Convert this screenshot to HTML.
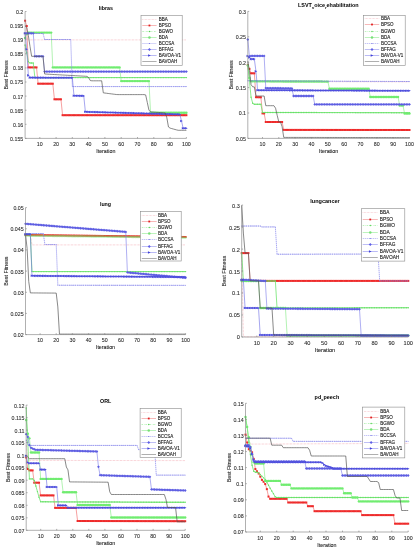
<!DOCTYPE html>
<html><head><meta charset="utf-8"><style>
html,body{margin:0;padding:0;background:#fff;}
.t{fill:#2a2a2a;stroke:#2a2a2a;stroke-width:0.08px;}
.l{fill:#1a1a1a;stroke:#1a1a1a;stroke-width:0.08px;}
.g{fill:#222;stroke:#222;stroke-width:0.12px;}
.h{fill:#000;}
svg{display:block;}
</style></head><body>
<svg width="416" height="550" viewBox="0 0 416 550" font-family='"Liberation Sans", sans-serif' style="will-change:transform">
<g>
<rect width="416" height="550" fill="#fff"/>
<defs><marker id="m_BPSO" markerUnits="userSpaceOnUse" markerWidth="2.00" markerHeight="2.00" refX="1.00" refY="1.00" viewBox="0 0 2.00 2.00" overflow="visible"><g fill="#ee2a2a"><rect width="2.00" height="2.00"/></g></marker><marker id="m_BGWO" markerUnits="userSpaceOnUse" markerWidth="1.40" markerHeight="1.40" refX="0.70" refY="0.70" viewBox="0 0 1.40 1.40" overflow="visible"><g fill="#66e066"><circle cx="0.70" cy="0.70" r="0.70"/></g></marker><marker id="m_BDA" markerUnits="userSpaceOnUse" markerWidth="2.40" markerHeight="2.40" refX="1.20" refY="1.20" viewBox="0 0 2.40 2.40" overflow="visible"><g fill="#70ec70"><circle cx="1.20" cy="1.20" r="1.20"/></g></marker><marker id="m_BCCSA" markerUnits="userSpaceOnUse" markerWidth="0.80" markerHeight="0.80" refX="0.40" refY="0.40" viewBox="0 0 0.80 0.80" overflow="visible"><g fill="#7070e4"><circle cx="0.40" cy="0.40" r="0.40"/></g></marker><marker id="m_BFFAG" markerUnits="userSpaceOnUse" markerWidth="2.80" markerHeight="2.80" refX="1.40" refY="1.40" viewBox="0 0 2.80 2.80" overflow="visible"><g fill="#5e5ee2"><path d="M1.40,0 L2.80,1.40 L1.40,2.80 L0,1.40 z"/></g></marker><marker id="m_BAVOA" markerUnits="userSpaceOnUse" markerWidth="2.60" markerHeight="2.60" refX="1.30" refY="1.30" viewBox="0 0 2.60 2.60" overflow="visible"><g fill="#4c4cdc"><path d="M0,0 L2.60,1.30 L0,2.60 z"/></g></marker></defs>
<polyline points="25.10,34.00 26.73,38.44 28.36,39.90 29.99,39.90 31.62,39.90 33.25,39.90 34.88,39.90 36.51,39.90 38.13,39.90 39.76,39.90 41.39,39.90 43.02,39.90 44.65,39.90 46.28,39.90 47.91,39.90 49.54,39.90 51.17,39.90 52.80,39.90 54.43,39.90 56.06,39.90 57.69,39.90 59.32,39.90 60.94,39.90 62.57,39.90 64.20,39.90 65.83,39.90 67.46,39.90 69.09,39.90 70.72,39.90 72.35,39.90 73.98,39.90 75.61,39.90 77.24,39.90 78.87,39.90 80.50,39.90 82.13,39.90 83.75,39.90 85.38,39.90 87.01,39.90 88.64,39.90 90.27,39.90 91.90,39.90 93.53,39.90 95.16,39.90 96.79,39.90 98.42,39.90 100.05,39.90 101.68,39.90 103.31,39.90 104.94,39.90 106.56,39.90 108.19,39.90 109.82,39.90 111.45,39.90 113.08,39.90 114.71,39.90 116.34,39.90 117.97,39.90 119.60,39.90 121.23,39.90 122.86,39.90 124.49,39.90 126.12,39.90 127.75,39.90 129.37,39.90 131.00,39.90 132.63,39.90 134.26,39.90 135.89,39.90 137.52,39.90 139.15,39.90 140.78,39.90 142.41,39.90 144.04,39.90 145.67,39.90 147.30,39.90 148.93,39.90 150.56,39.90 152.18,39.90 153.81,39.90 155.44,39.90 157.07,39.90 158.70,39.90 160.33,39.90 161.96,39.90 163.59,39.90 165.22,39.90 166.85,39.90 168.48,39.90 170.11,39.90 171.74,39.90 173.37,39.90 174.99,39.90 176.62,39.90 178.25,39.90 179.88,39.90 181.51,39.90 183.14,39.90 184.77,39.90 186.40,39.90" fill="none" stroke="#f08a96" stroke-width="0.60" stroke-dasharray="0.6 0.8"/>
<polyline points="25.10,20.70 26.73,26.00 28.36,67.40 29.99,67.40 31.62,67.40 33.25,67.40 34.88,67.40 36.51,67.40 38.13,83.70 39.76,83.70 41.39,83.70 43.02,83.70 44.65,83.70 46.28,83.70 47.91,83.70 49.54,83.70 51.17,83.70 52.80,83.70 54.43,99.30 56.06,99.30 57.69,99.30 59.32,99.30 60.94,99.30 62.57,115.20 64.20,115.20 65.83,115.20 67.46,115.20 69.09,115.20 70.72,115.20 72.35,115.20 73.98,115.20 75.61,115.20 77.24,115.20 78.87,115.20 80.50,115.20 82.13,115.20 83.75,115.20 85.38,115.20 87.01,115.20 88.64,115.20 90.27,115.20 91.90,115.20 93.53,115.20 95.16,115.20 96.79,115.20 98.42,115.20 100.05,115.20 101.68,115.20 103.31,115.20 104.94,115.20 106.56,115.20 108.19,115.20 109.82,115.20 111.45,115.20 113.08,115.20 114.71,115.20 116.34,115.20 117.97,115.20 119.60,115.20 121.23,115.20 122.86,115.20 124.49,115.20 126.12,115.20 127.75,115.20 129.37,115.20 131.00,115.20 132.63,115.20 134.26,115.20 135.89,115.20 137.52,115.20 139.15,115.20 140.78,115.20 142.41,115.20 144.04,115.20 145.67,115.20 147.30,115.20 148.93,115.20 150.56,115.20 152.18,115.20 153.81,115.20 155.44,115.20 157.07,115.20 158.70,115.20 160.33,115.20 161.96,115.20 163.59,115.20 165.22,115.20 166.85,115.20 168.48,115.20 170.11,115.20 171.74,115.20 173.37,115.20 174.99,115.20 176.62,115.20 178.25,115.20 179.88,115.20 181.51,115.20 183.14,115.20 184.77,115.20 186.40,115.20" fill="none" stroke="#f06060" stroke-width="0.60" marker-start="url(#m_BPSO)" marker-mid="url(#m_BPSO)" marker-end="url(#m_BPSO)"/>
<polyline points="25.10,45.00 26.73,52.80 28.36,61.68 29.99,63.00 31.62,63.00 33.25,63.00 34.88,77.60 36.51,77.60 38.13,77.60 39.76,77.60 41.39,77.60 43.02,77.60 44.65,77.60 46.28,77.60 47.91,77.60 49.54,77.60 51.17,77.60 52.80,77.60 54.43,77.60 56.06,77.60 57.69,77.60 59.32,77.60 60.94,77.60 62.57,77.60 64.20,77.60 65.83,77.60 67.46,77.60 69.09,77.60 70.72,77.60 72.35,77.60 73.98,77.60 75.61,77.60 77.24,77.60 78.87,77.60 80.50,77.60 82.13,77.60 83.75,77.60 85.38,77.60 87.01,77.60 88.64,77.60 90.27,77.60 91.90,77.60 93.53,77.60 95.16,77.60 96.79,77.60 98.42,77.60 100.05,77.60 101.68,77.60 103.31,77.60 104.94,77.60 106.56,77.60 108.19,77.60 109.82,77.60 111.45,77.60 113.08,77.60 114.71,77.60 116.34,77.60 117.97,77.60 119.60,77.60 121.23,77.60 122.86,77.60 124.49,77.60 126.12,77.60 127.75,77.60 129.37,77.60 131.00,77.60 132.63,77.60 134.26,77.60 135.89,77.60 137.52,77.60 139.15,77.60 140.78,77.60 142.41,77.60 144.04,77.60 145.67,77.60 147.30,77.60 148.93,77.60 150.56,77.60 152.18,77.60 153.81,77.60 155.44,77.60 157.07,77.60 158.70,77.60 160.33,77.60 161.96,77.60 163.59,77.60 165.22,77.60 166.85,77.60 168.48,77.60 170.11,77.60 171.74,77.60 173.37,77.60 174.99,77.60 176.62,77.60 178.25,77.60 179.88,77.60 181.51,77.60 183.14,77.60 184.77,77.60 186.40,77.60" fill="none" stroke="#70e470" stroke-width="0.80" marker-start="url(#m_BGWO)" marker-mid="url(#m_BGWO)" marker-end="url(#m_BGWO)"/>
<polyline points="25.10,38.00 26.73,33.94 28.36,32.60 29.99,32.60 31.62,32.60 33.25,32.60 34.88,32.60 36.51,32.60 38.13,32.60 39.76,32.60 41.39,32.60 43.02,32.60 44.65,32.60 46.28,32.60 47.91,32.60 49.54,32.60 51.17,32.60 52.80,67.40 54.43,67.40 56.06,67.40 57.69,67.40 59.32,67.40 60.94,67.40 62.57,67.40 64.20,67.40 65.83,67.40 67.46,67.40 69.09,67.40 70.72,67.40 72.35,67.40 73.98,67.40 75.61,67.40 77.24,67.40 78.87,67.40 80.50,67.40 82.13,67.40 83.75,67.40 85.38,67.40 87.01,67.40 88.64,67.40 90.27,67.40 91.90,67.40 93.53,67.40 95.16,67.40 96.79,67.40 98.42,67.40 100.05,67.40 101.68,67.40 103.31,67.40 104.94,67.40 106.56,67.40 108.19,67.40 109.82,67.40 111.45,67.40 113.08,67.40 114.71,67.40 116.34,67.40 117.97,67.40 119.60,67.40 121.23,81.10 122.86,81.10 124.49,81.10 126.12,81.10 127.75,81.10 129.37,81.10 131.00,81.10 132.63,81.10 134.26,81.10 135.89,81.10 137.52,81.10 139.15,81.10 140.78,81.10 142.41,81.10 144.04,81.10 145.67,81.10 147.30,81.10 148.93,81.10 150.56,112.60 152.18,112.61 153.81,112.62 155.44,112.63 157.07,112.64 158.70,112.65 160.33,112.66 161.96,112.67 163.59,112.68 165.22,112.68 166.85,112.69 168.48,112.70 170.11,112.71 171.74,112.72 173.37,112.73 174.99,112.74 176.62,112.75 178.25,112.76 179.88,112.76 181.51,112.77 183.14,112.78 184.77,112.79 186.40,112.80" fill="none" stroke="#80ea80" stroke-width="0.60" marker-start="url(#m_BDA)" marker-mid="url(#m_BDA)" marker-end="url(#m_BDA)"/>
<polyline points="25.10,33.50 26.73,33.50 28.36,33.50 29.99,33.50 31.62,33.50 33.25,33.50 34.88,33.50 36.51,33.50 38.13,33.50 39.76,33.50 41.39,33.50 43.02,33.50 44.65,39.50 46.28,39.50 47.91,39.50 49.54,39.50 51.17,39.50 52.80,39.50 54.43,39.50 56.06,39.50 57.69,39.50 59.32,39.50 60.94,39.50 62.57,39.50 64.20,39.50 65.83,39.50 67.46,39.50 69.09,39.50 70.72,39.50 72.35,86.60 73.98,86.60 75.61,86.60 77.24,86.60 78.87,86.60 80.50,86.60 82.13,86.60 83.75,86.60 85.38,86.60 87.01,86.60 88.64,86.60 90.27,86.60 91.90,86.60 93.53,86.60 95.16,86.60 96.79,86.60 98.42,86.60 100.05,86.60 101.68,86.60 103.31,86.60 104.94,86.60 106.56,86.60 108.19,86.60 109.82,86.60 111.45,86.60 113.08,86.60 114.71,86.60 116.34,86.60 117.97,86.60 119.60,86.60 121.23,86.60 122.86,86.60 124.49,86.60 126.12,86.60 127.75,86.60 129.37,86.60 131.00,86.60 132.63,86.60 134.26,86.60 135.89,86.60 137.52,86.60 139.15,86.60 140.78,86.60 142.41,86.60 144.04,86.60 145.67,86.60 147.30,86.60 148.93,86.60 150.56,86.60 152.18,86.60 153.81,86.60 155.44,86.60 157.07,86.60 158.70,86.60 160.33,86.60 161.96,86.60 163.59,86.60 165.22,86.60 166.85,86.60 168.48,86.60 170.11,86.60 171.74,86.60 173.37,86.60 174.99,86.60 176.62,86.60 178.25,86.60 179.88,86.60 181.51,86.60 183.14,86.60 184.77,86.60 186.40,86.60" fill="none" stroke="#8c8cee" stroke-width="0.75" stroke-dasharray="1.4 0.6" marker-start="url(#m_BCCSA)" marker-mid="url(#m_BCCSA)" marker-end="url(#m_BCCSA)"/>
<polyline points="25.10,33.30 26.73,33.30 28.36,33.30 29.99,33.30 31.62,33.30 33.25,33.30 34.88,56.30 36.51,56.30 38.13,56.30 39.76,56.30 41.39,56.30 43.02,56.30 44.65,71.60 46.28,71.60 47.91,71.60 49.54,71.60 51.17,71.60 52.80,71.60 54.43,71.60 56.06,71.60 57.69,71.60 59.32,71.60 60.94,71.60 62.57,71.60 64.20,71.60 65.83,71.60 67.46,71.60 69.09,71.60 70.72,71.60 72.35,71.60 73.98,71.60 75.61,71.60 77.24,71.60 78.87,71.60 80.50,71.60 82.13,71.60 83.75,71.60 85.38,71.60 87.01,71.60 88.64,71.60 90.27,71.60 91.90,71.60 93.53,71.60 95.16,71.60 96.79,71.60 98.42,71.60 100.05,71.60 101.68,71.60 103.31,71.60 104.94,71.60 106.56,71.60 108.19,71.60 109.82,71.60 111.45,71.60 113.08,71.60 114.71,71.60 116.34,71.60 117.97,71.60 119.60,71.60 121.23,71.60 122.86,71.60 124.49,71.60 126.12,71.60 127.75,71.60 129.37,71.60 131.00,71.60 132.63,71.60 134.26,71.60 135.89,71.60 137.52,71.60 139.15,71.60 140.78,71.60 142.41,71.60 144.04,71.60 145.67,71.60 147.30,71.60 148.93,71.60 150.56,71.60 152.18,71.60 153.81,71.60 155.44,71.60 157.07,71.60 158.70,71.60 160.33,71.60 161.96,71.60 163.59,71.60 165.22,71.60 166.85,71.60 168.48,71.60 170.11,71.60 171.74,71.60 173.37,71.60 174.99,71.60 176.62,71.60 178.25,71.60 179.88,71.60 181.51,71.60 183.14,71.60 184.77,71.60 186.40,71.60" fill="none" stroke="#7878ea" stroke-width="0.60" marker-start="url(#m_BFFAG)" marker-mid="url(#m_BFFAG)" marker-end="url(#m_BFFAG)"/>
<polyline points="25.10,33.30 26.73,49.18 28.36,75.33 29.99,77.61 31.62,77.61 33.25,77.62 34.88,77.63 36.51,77.64 38.13,77.64 39.76,77.65 41.39,77.66 43.02,77.67 44.65,77.67 46.28,77.68 47.91,77.69 49.54,77.70 51.17,77.70 52.80,77.71 54.43,77.72 56.06,77.73 57.69,77.73 59.32,77.74 60.94,77.75 62.57,77.75 64.20,77.76 65.83,77.77 67.46,77.78 69.09,77.78 70.72,77.79 72.35,77.80 73.98,95.72 75.61,95.75 77.24,95.77 78.87,95.80 80.50,95.83 82.13,95.86 83.75,95.89 85.38,111.81 87.01,111.85 88.64,111.90 90.27,111.94 91.90,111.99 93.53,112.03 95.16,112.08 96.79,112.12 98.42,112.17 100.05,112.21 101.68,112.25 103.31,112.30 104.94,112.34 106.56,112.39 108.19,112.43 109.82,112.48 111.45,112.52 113.08,112.56 114.71,112.61 116.34,112.65 117.97,112.70 119.60,112.74 121.23,112.79 122.86,112.83 124.49,112.88 126.12,112.92 127.75,112.96 129.37,113.01 131.00,113.05 132.63,113.10 134.26,113.14 135.89,113.19 137.52,113.23 139.15,113.27 140.78,113.32 142.41,113.36 144.04,113.41 145.67,113.45 147.30,113.50 148.93,113.54 150.56,113.58 152.18,113.63 153.81,113.67 155.44,113.72 157.07,113.76 158.70,113.81 160.33,113.85 161.96,113.90 163.59,113.94 165.22,113.98 166.85,114.03 168.48,114.07 170.11,114.12 171.74,114.16 173.37,114.21 174.99,114.25 176.62,114.29 178.25,114.34 179.88,114.38 181.51,121.05 183.14,128.20 184.77,128.20 186.40,128.20" fill="none" stroke="#6a6ae4" stroke-width="0.60" marker-start="url(#m_BAVOA)" marker-mid="url(#m_BAVOA)" marker-end="url(#m_BAVOA)"/>
<polyline points="25.10,26.00 26.73,27.50 28.36,35.63 29.99,46.35 31.62,56.30 33.25,56.30 34.88,56.30 36.51,56.30 38.13,56.30 39.76,56.30 41.39,56.30 43.02,56.30 44.65,74.01 46.28,74.10 47.91,74.19 49.54,74.28 51.17,74.37 52.80,74.46 54.43,74.55 56.06,74.64 57.69,74.73 59.32,74.82 60.94,74.91 62.57,75.00 64.20,75.09 65.83,75.18 67.46,75.27 69.09,75.36 70.72,75.45 72.35,75.54 73.98,75.63 75.61,75.72 77.24,75.81 78.87,75.90 80.50,75.99 82.13,76.08 83.75,76.17 85.38,76.26 87.01,76.35 88.64,77.58 90.27,80.56 91.90,80.80 93.53,80.80 95.16,80.80 96.79,80.80 98.42,80.80 100.05,80.80 101.68,80.80 103.31,92.84 104.94,93.05 106.56,93.26 108.19,93.47 109.82,93.68 111.45,93.89 113.08,94.10 114.71,94.31 116.34,94.52 117.97,94.60 119.60,94.60 121.23,94.60 122.86,94.60 124.49,94.60 126.12,94.60 127.75,94.60 129.37,94.60 131.00,94.60 132.63,94.60 134.26,94.60 135.89,94.60 137.52,94.60 139.15,94.60 140.78,94.60 142.41,94.60 144.04,94.60 145.67,94.91 147.30,102.49 148.93,110.06 150.56,111.89 152.18,112.01 153.81,112.12 155.44,112.24 157.07,112.36 158.70,112.48 160.33,112.59 161.96,112.71 163.59,112.83 165.22,112.94 166.85,117.80 168.48,127.01 170.11,128.12 171.74,128.57 173.37,129.02 174.99,129.47 176.62,129.92 178.25,130.30 179.88,130.30 181.51,130.30 183.14,130.30 184.77,130.30 186.40,130.30" fill="none" stroke="#555555" stroke-width="0.70"/>
<path d="M25.1,11.5 V138.4 H186.4" fill="none" stroke="#7a7a7a" stroke-width="0.60"/>
<line x1="25.1" y1="138.4" x2="26.5" y2="138.4" stroke="#7a7a7a" stroke-width="0.60"/>
<text x="23.3" y="140.8" font-size="5.30" text-anchor="end" class="t">0.155</text>
<line x1="25.1" y1="124.3" x2="26.5" y2="124.3" stroke="#7a7a7a" stroke-width="0.60"/>
<text x="23.3" y="126.7" font-size="5.30" text-anchor="end" class="t">0.16</text>
<line x1="25.1" y1="110.2" x2="26.5" y2="110.2" stroke="#7a7a7a" stroke-width="0.60"/>
<text x="23.3" y="112.6" font-size="5.30" text-anchor="end" class="t">0.165</text>
<line x1="25.1" y1="96.1" x2="26.5" y2="96.1" stroke="#7a7a7a" stroke-width="0.60"/>
<text x="23.3" y="98.5" font-size="5.30" text-anchor="end" class="t">0.17</text>
<line x1="25.1" y1="82.0" x2="26.5" y2="82.0" stroke="#7a7a7a" stroke-width="0.60"/>
<text x="23.3" y="84.4" font-size="5.30" text-anchor="end" class="t">0.175</text>
<line x1="25.1" y1="67.9" x2="26.5" y2="67.9" stroke="#7a7a7a" stroke-width="0.60"/>
<text x="23.3" y="70.3" font-size="5.30" text-anchor="end" class="t">0.18</text>
<line x1="25.1" y1="53.8" x2="26.5" y2="53.8" stroke="#7a7a7a" stroke-width="0.60"/>
<text x="23.3" y="56.2" font-size="5.30" text-anchor="end" class="t">0.185</text>
<line x1="25.1" y1="39.7" x2="26.5" y2="39.7" stroke="#7a7a7a" stroke-width="0.60"/>
<text x="23.3" y="42.1" font-size="5.30" text-anchor="end" class="t">0.19</text>
<line x1="25.1" y1="25.6" x2="26.5" y2="25.6" stroke="#7a7a7a" stroke-width="0.60"/>
<text x="23.3" y="28.0" font-size="5.30" text-anchor="end" class="t">0.195</text>
<line x1="25.1" y1="11.5" x2="26.5" y2="11.5" stroke="#7a7a7a" stroke-width="0.60"/>
<text x="23.3" y="13.9" font-size="5.30" text-anchor="end" class="t">0.2</text>
<line x1="39.8" y1="138.4" x2="39.8" y2="137.0" stroke="#7a7a7a" stroke-width="0.60"/>
<text x="39.8" y="146.0" font-size="5.30" text-anchor="middle" class="t">10</text>
<line x1="56.1" y1="138.4" x2="56.1" y2="137.0" stroke="#7a7a7a" stroke-width="0.60"/>
<text x="56.1" y="146.0" font-size="5.30" text-anchor="middle" class="t">20</text>
<line x1="72.3" y1="138.4" x2="72.3" y2="137.0" stroke="#7a7a7a" stroke-width="0.60"/>
<text x="72.3" y="146.0" font-size="5.30" text-anchor="middle" class="t">30</text>
<line x1="88.6" y1="138.4" x2="88.6" y2="137.0" stroke="#7a7a7a" stroke-width="0.60"/>
<text x="88.6" y="146.0" font-size="5.30" text-anchor="middle" class="t">40</text>
<line x1="104.9" y1="138.4" x2="104.9" y2="137.0" stroke="#7a7a7a" stroke-width="0.60"/>
<text x="104.9" y="146.0" font-size="5.30" text-anchor="middle" class="t">50</text>
<line x1="121.2" y1="138.4" x2="121.2" y2="137.0" stroke="#7a7a7a" stroke-width="0.60"/>
<text x="121.2" y="146.0" font-size="5.30" text-anchor="middle" class="t">60</text>
<line x1="137.5" y1="138.4" x2="137.5" y2="137.0" stroke="#7a7a7a" stroke-width="0.60"/>
<text x="137.5" y="146.0" font-size="5.30" text-anchor="middle" class="t">70</text>
<line x1="153.8" y1="138.4" x2="153.8" y2="137.0" stroke="#7a7a7a" stroke-width="0.60"/>
<text x="153.8" y="146.0" font-size="5.30" text-anchor="middle" class="t">80</text>
<line x1="170.1" y1="138.4" x2="170.1" y2="137.0" stroke="#7a7a7a" stroke-width="0.60"/>
<text x="170.1" y="146.0" font-size="5.30" text-anchor="middle" class="t">90</text>
<line x1="186.4" y1="138.4" x2="186.4" y2="137.0" stroke="#7a7a7a" stroke-width="0.60"/>
<text x="186.4" y="146.0" font-size="5.30" text-anchor="middle" class="t">100</text>
<text x="105.8" y="153.1" font-size="5.30" text-anchor="middle" class="l">Iteration</text>
<text transform="translate(5.9,75.0) rotate(-90)" x="0" y="1.91" font-size="5.30" text-anchor="middle" class="l">Best Fitness</text>
<text x="105.8" y="9.6" font-size="5.30" font-weight="bold" text-anchor="middle" class="h">libras</text>
<rect x="141.0" y="15.3" width="41.2" height="50.0" fill="#fff" stroke="#8a8a8a" stroke-width="0.6"/>
<line x1="142.3" y1="19.5" x2="156.6" y2="19.5" stroke="#f4b0b8" stroke-width="0.7" stroke-dasharray="0.6 0.8"/>
<text x="158.8" y="21.0" font-size="4.50" class="g">BBA</text>
<line x1="142.3" y1="25.5" x2="156.6" y2="25.5" stroke="#f49a9a" stroke-width="0.7"/>
<rect x="148.55" y="24.60" width="1.8" height="1.8" fill="#e02020"/>
<text x="158.8" y="27.0" font-size="4.50" class="g">BPSO</text>
<line x1="142.3" y1="31.5" x2="156.6" y2="31.5" stroke="#a0eea0" stroke-width="0.7" stroke-dasharray="1.6 0.9 0.5 0.9"/>
<circle cx="149.45" cy="31.50" r="0.7" fill="#50d050"/>
<text x="158.8" y="33.0" font-size="4.50" class="g">BGWO</text>
<line x1="142.3" y1="37.5" x2="156.6" y2="37.5" stroke="#a0eea0" stroke-width="0.7"/>
<circle cx="149.45" cy="37.50" r="1.25" fill="#78e078"/>
<text x="158.8" y="39.0" font-size="4.50" class="g">BDA</text>
<line x1="142.3" y1="43.5" x2="156.6" y2="43.5" stroke="#acacf2" stroke-width="0.7" stroke-dasharray="1.4 0.6"/>
<circle cx="149.45" cy="43.50" r="0.6" fill="#7070e0"/>
<text x="158.8" y="45.0" font-size="4.50" class="g">BCCSA</text>
<line x1="142.3" y1="49.5" x2="156.6" y2="49.5" stroke="#a4a4f2" stroke-width="0.7"/>
<path d="M149.45,48.10 l1.5,1.4 l-1.5,1.4 l-1.5,-1.4 z" fill="#6060e6"/>
<text x="158.8" y="51.0" font-size="4.50" class="g">BFFAG</text>
<line x1="142.3" y1="55.5" x2="156.6" y2="55.5" stroke="#9c9cf0" stroke-width="0.7"/>
<path d="M148.15,54.15 l2.6,1.35 l-2.6,1.35 z" fill="#4040d8"/>
<text x="158.8" y="57.0" font-size="4.50" class="g">BAVOA-V1</text>
<line x1="142.3" y1="61.5" x2="156.6" y2="61.5" stroke="#8c8c8c" stroke-width="0.7"/>
<text x="158.8" y="63.0" font-size="4.50" class="g">BAVOAH</text>
<polyline points="247.80,65.00 249.43,76.83 251.07,81.50 252.70,81.51 254.33,81.51 255.97,81.51 257.60,81.52 259.23,81.52 260.87,81.53 262.50,81.53 264.13,81.54 265.77,81.54 267.40,81.54 269.03,81.55 270.67,81.55 272.30,81.56 273.93,81.56 275.57,81.56 277.20,81.57 278.83,81.57 280.47,81.58 282.10,81.58 283.73,81.58 285.37,81.59 287.00,81.59 288.63,81.60 290.27,81.60 291.90,81.61 293.53,81.61 295.17,81.61 296.80,81.62 298.43,81.62 300.07,81.63 301.70,81.63 303.33,81.63 304.97,81.64 306.60,81.64 308.23,81.65 309.87,81.65 311.50,81.65 313.13,81.66 314.77,81.66 316.40,81.67 318.03,81.67 319.67,81.67 321.30,81.68 322.93,81.68 324.57,81.69 326.20,81.69 327.83,81.70 329.47,81.70 331.10,81.70 332.73,81.71 334.37,81.71 336.00,81.72 337.63,81.72 339.27,81.72 340.90,81.73 342.53,81.73 344.17,81.74 345.80,81.74 347.43,81.74 349.07,81.75 350.70,81.75 352.33,81.76 353.97,81.76 355.60,81.76 357.23,81.77 358.87,81.77 360.50,81.78 362.13,81.78 363.77,81.79 365.40,81.79 367.03,81.79 368.67,81.80 370.30,81.80 371.93,81.81 373.57,81.81 375.20,81.81 376.83,81.82 378.47,81.82 380.10,81.83 381.73,81.83 383.37,81.83 385.00,81.84 386.63,81.84 388.27,81.85 389.90,81.85 391.53,81.85 393.17,81.86 394.80,81.86 396.43,81.87 398.07,81.87 399.70,81.88 401.33,81.88 402.97,81.88 404.60,81.89 406.23,81.89 407.87,81.90 409.50,81.90" fill="none" stroke="#f08a96" stroke-width="0.60" stroke-dasharray="0.6 0.8"/>
<polyline points="247.80,65.00 249.43,68.87 251.07,73.30 252.70,73.30 254.33,73.30 255.97,97.20 257.60,97.23 259.23,97.26 260.87,97.28 262.50,113.40 264.13,113.40 265.77,122.00 267.40,122.00 269.03,122.00 270.67,122.00 272.30,122.00 273.93,122.00 275.57,122.00 277.20,122.00 278.83,122.00 280.47,122.00 282.10,122.00 283.73,129.90 285.37,129.90 287.00,129.90 288.63,129.90 290.27,129.91 291.90,129.91 293.53,129.91 295.17,129.91 296.80,129.91 298.43,129.91 300.07,129.91 301.70,129.91 303.33,129.92 304.97,129.92 306.60,129.92 308.23,129.92 309.87,129.92 311.50,129.92 313.13,129.92 314.77,129.92 316.40,129.93 318.03,129.93 319.67,129.93 321.30,129.93 322.93,129.93 324.57,129.93 326.20,129.93 327.83,129.94 329.47,129.94 331.10,129.94 332.73,129.94 334.37,129.94 336.00,129.94 337.63,129.94 339.27,129.94 340.90,129.95 342.53,129.95 344.17,129.95 345.80,129.95 347.43,129.95 349.07,129.95 350.70,129.95 352.33,129.95 353.97,129.96 355.60,129.96 357.23,129.96 358.87,129.96 360.50,129.96 362.13,129.96 363.77,129.96 365.40,129.97 367.03,129.97 368.67,129.97 370.30,129.97 371.93,129.97 373.57,129.97 375.20,129.97 376.83,129.97 378.47,129.98 380.10,129.98 381.73,129.98 383.37,129.98 385.00,129.98 386.63,129.98 388.27,129.98 389.90,129.98 391.53,129.99 393.17,129.99 394.80,129.99 396.43,129.99 398.07,129.99 399.70,129.99 401.33,129.99 402.97,129.99 404.60,130.00 406.23,130.00 407.87,130.00 409.50,130.00" fill="none" stroke="#f06060" stroke-width="0.60" marker-start="url(#m_BPSO)" marker-mid="url(#m_BPSO)" marker-end="url(#m_BPSO)"/>
<polyline points="247.80,65.40 249.43,80.50 251.07,97.24 252.70,103.21 254.33,104.30 255.97,104.30 257.60,104.30 259.23,104.30 260.87,104.30 262.50,112.50 264.13,112.50 265.77,112.50 267.40,112.51 269.03,112.51 270.67,112.51 272.30,112.51 273.93,112.52 275.57,112.52 277.20,112.52 278.83,112.52 280.47,112.52 282.10,112.53 283.73,112.53 285.37,112.53 287.00,112.53 288.63,112.54 290.27,112.54 291.90,112.54 293.53,112.54 295.17,112.54 296.80,112.55 298.43,112.55 300.07,112.55 301.70,112.55 303.33,112.56 304.97,112.56 306.60,112.56 308.23,112.56 309.87,112.56 311.50,112.57 313.13,112.57 314.77,112.57 316.40,112.57 318.03,112.58 319.67,112.58 321.30,112.58 322.93,112.58 324.57,112.58 326.20,112.59 327.83,112.59 329.47,112.59 331.10,112.59 332.73,112.60 334.37,112.60 336.00,112.60 337.63,112.60 339.27,112.60 340.90,112.61 342.53,112.61 344.17,112.61 345.80,112.61 347.43,112.62 349.07,112.62 350.70,112.62 352.33,112.62 353.97,112.62 355.60,112.63 357.23,112.63 358.87,112.63 360.50,112.63 362.13,112.64 363.77,112.64 365.40,112.64 367.03,112.64 368.67,112.64 370.30,112.65 371.93,112.65 373.57,112.65 375.20,112.65 376.83,112.66 378.47,112.66 380.10,112.66 381.73,112.66 383.37,112.66 385.00,112.67 386.63,112.67 388.27,112.67 389.90,112.67 391.53,112.68 393.17,112.68 394.80,112.68 396.43,112.68 398.07,112.68 399.70,112.69 401.33,112.69 402.97,112.69 404.60,112.69 406.23,112.70 407.87,112.70 409.50,112.70" fill="none" stroke="#70e470" stroke-width="0.80" marker-start="url(#m_BGWO)" marker-mid="url(#m_BGWO)" marker-end="url(#m_BGWO)"/>
<polyline points="247.80,65.40 249.43,78.06 251.07,81.30 252.70,81.31 254.33,81.32 255.97,81.32 257.60,81.33 259.23,81.34 260.87,81.34 262.50,81.35 264.13,81.35 265.77,81.36 267.40,81.37 269.03,81.37 270.67,81.38 272.30,81.39 273.93,81.39 275.57,81.40 277.20,81.40 278.83,81.41 280.47,81.42 282.10,81.42 283.73,81.43 285.37,81.44 287.00,81.44 288.63,81.45 290.27,81.45 291.90,81.46 293.53,81.47 295.17,81.47 296.80,81.48 298.43,81.48 300.07,81.49 301.70,81.50 303.33,81.50 304.97,81.51 306.60,81.52 308.23,81.52 309.87,81.53 311.50,81.53 313.13,81.54 314.77,81.55 316.40,81.55 318.03,81.56 319.67,81.57 321.30,81.57 322.93,81.58 324.57,81.58 326.20,81.59 327.83,81.60 329.47,88.70 331.10,88.70 332.73,88.70 334.37,88.70 336.00,88.70 337.63,88.70 339.27,88.70 340.90,88.70 342.53,88.70 344.17,88.70 345.80,88.70 347.43,88.70 349.07,88.70 350.70,88.70 352.33,88.70 353.97,88.70 355.60,88.70 357.23,88.70 358.87,88.70 360.50,88.70 362.13,88.70 363.77,88.70 365.40,88.70 367.03,88.70 368.67,88.70 370.30,97.00 371.93,97.00 373.57,97.00 375.20,97.00 376.83,97.00 378.47,97.00 380.10,97.00 381.73,97.00 383.37,97.00 385.00,97.00 386.63,97.00 388.27,97.00 389.90,97.00 391.53,97.00 393.17,97.00 394.80,97.00 396.43,97.00 398.07,97.00 399.70,105.50 401.33,105.50 402.97,105.50 404.60,113.60 406.23,113.60 407.87,113.60 409.50,113.60" fill="none" stroke="#80ea80" stroke-width="0.60" marker-start="url(#m_BDA)" marker-mid="url(#m_BDA)" marker-end="url(#m_BDA)"/>
<polyline points="247.80,80.80 249.43,80.81 251.07,80.81 252.70,80.82 254.33,80.83 255.97,80.84 257.60,80.84 259.23,80.85 260.87,80.86 262.50,80.86 264.13,80.87 265.77,80.88 267.40,80.88 269.03,80.89 270.67,80.90 272.30,80.91 273.93,80.91 275.57,80.92 277.20,80.93 278.83,80.93 280.47,80.94 282.10,80.95 283.73,80.96 285.37,80.96 287.00,80.97 288.63,80.98 290.27,80.98 291.90,80.99 293.53,81.00 295.17,81.01 296.80,81.01 298.43,81.02 300.07,81.03 301.70,81.03 303.33,81.04 304.97,81.05 306.60,81.05 308.23,81.06 309.87,81.07 311.50,81.08 313.13,81.08 314.77,81.09 316.40,81.10 318.03,81.10 319.67,81.11 321.30,81.12 322.93,81.13 324.57,81.13 326.20,81.14 327.83,81.15 329.47,81.15 331.10,81.16 332.73,81.17 334.37,81.17 336.00,81.18 337.63,81.19 339.27,81.20 340.90,81.20 342.53,81.21 344.17,81.22 345.80,81.22 347.43,81.23 349.07,81.24 350.70,81.25 352.33,81.25 353.97,81.26 355.60,81.27 357.23,81.27 358.87,81.28 360.50,81.29 362.13,81.29 363.77,81.30 365.40,81.31 367.03,81.32 368.67,81.32 370.30,81.33 371.93,81.34 373.57,81.34 375.20,81.35 376.83,81.36 378.47,81.37 380.10,81.37 381.73,81.38 383.37,81.39 385.00,81.39 386.63,81.40 388.27,81.41 389.90,81.42 391.53,81.42 393.17,81.43 394.80,81.44 396.43,81.44 398.07,81.45 399.70,81.46 401.33,81.46 402.97,81.47 404.60,81.48 406.23,81.49 407.87,81.49 409.50,81.50" fill="none" stroke="#8c8cee" stroke-width="0.75" stroke-dasharray="1.4 0.6" marker-start="url(#m_BCCSA)" marker-mid="url(#m_BCCSA)" marker-end="url(#m_BCCSA)"/>
<polyline points="247.80,39.50 249.43,56.30 251.07,55.90 252.70,55.90 254.33,55.90 255.97,55.90 257.60,55.90 259.23,55.90 260.87,55.90 262.50,55.90 264.13,55.90 265.77,88.11 267.40,88.13 269.03,88.15 270.67,88.16 272.30,88.18 273.93,88.20 275.57,88.22 277.20,88.24 278.83,88.26 280.47,88.27 282.10,88.29 283.73,88.31 285.37,88.33 287.00,88.35 288.63,88.36 290.27,88.38 291.90,88.40 293.53,96.00 295.17,96.00 296.80,96.00 298.43,96.00 300.07,96.00 301.70,96.00 303.33,96.00 304.97,96.00 306.60,96.00 308.23,96.00 309.87,96.00 311.50,96.00 313.13,96.00 314.77,104.40 316.40,104.40 318.03,104.40 319.67,104.40 321.30,104.40 322.93,104.40 324.57,104.40 326.20,104.40 327.83,104.40 329.47,104.40 331.10,104.40 332.73,104.40 334.37,104.40 336.00,104.40 337.63,104.40 339.27,104.40 340.90,104.40 342.53,104.40 344.17,104.40 345.80,104.40 347.43,104.40 349.07,104.40 350.70,104.40 352.33,104.40 353.97,104.40 355.60,104.40 357.23,104.40 358.87,104.40 360.50,104.40 362.13,104.40 363.77,104.40 365.40,104.40 367.03,104.40 368.67,104.40 370.30,104.40 371.93,104.40 373.57,104.40 375.20,104.40 376.83,104.40 378.47,104.40 380.10,104.40 381.73,104.40 383.37,104.40 385.00,104.40 386.63,104.40 388.27,104.40 389.90,104.40 391.53,104.40 393.17,104.40 394.80,104.40 396.43,104.40 398.07,104.40 399.70,104.40 401.33,104.40 402.97,104.40 404.60,104.40 406.23,104.40 407.87,104.40 409.50,104.40" fill="none" stroke="#7878ea" stroke-width="0.60" marker-start="url(#m_BFFAG)" marker-mid="url(#m_BFFAG)" marker-end="url(#m_BFFAG)"/>
<polyline points="247.80,56.00 249.43,57.53 251.07,59.10 252.70,59.10 254.33,59.10 255.97,71.34 257.60,90.20 259.23,90.21 260.87,90.21 262.50,90.22 264.13,90.23 265.77,90.23 267.40,90.24 269.03,90.25 270.67,90.25 272.30,90.26 273.93,90.26 275.57,90.27 277.20,90.28 278.83,90.28 280.47,90.29 282.10,90.30 283.73,90.30 285.37,90.31 287.00,90.32 288.63,90.32 290.27,90.33 291.90,90.34 293.53,90.34 295.17,90.35 296.80,90.36 298.43,90.36 300.07,90.37 301.70,90.37 303.33,90.38 304.97,90.39 306.60,90.39 308.23,90.40 309.87,90.41 311.50,90.41 313.13,90.42 314.77,90.43 316.40,90.43 318.03,90.44 319.67,90.45 321.30,90.45 322.93,90.46 324.57,90.46 326.20,90.47 327.83,90.48 329.47,90.48 331.10,90.49 332.73,90.50 334.37,90.50 336.00,90.51 337.63,90.52 339.27,90.52 340.90,90.53 342.53,90.54 344.17,90.54 345.80,90.55 347.43,90.55 349.07,90.56 350.70,90.57 352.33,90.57 353.97,90.58 355.60,90.59 357.23,90.59 358.87,90.60 360.50,90.61 362.13,90.61 363.77,90.62 365.40,90.63 367.03,90.63 368.67,90.64 370.30,90.65 371.93,90.65 373.57,90.66 375.20,90.66 376.83,90.67 378.47,90.68 380.10,90.68 381.73,90.69 383.37,90.70 385.00,90.70 386.63,90.71 388.27,90.72 389.90,90.72 391.53,90.73 393.17,90.74 394.80,90.74 396.43,90.75 398.07,90.75 399.70,90.76 401.33,90.77 402.97,90.77 404.60,90.78 406.23,90.79 407.87,90.79 409.50,90.80" fill="none" stroke="#6a6ae4" stroke-width="0.60" marker-start="url(#m_BAVOA)" marker-mid="url(#m_BAVOA)" marker-end="url(#m_BAVOA)"/>
<polyline points="247.80,61.30 249.43,70.35 251.07,84.66 252.70,86.80 254.33,86.91 255.97,96.00 257.60,96.00 259.23,96.00 260.87,96.00 262.50,96.00 264.13,96.00 265.77,105.70 267.40,105.70 269.03,105.70 270.67,105.70 272.30,105.70 273.93,105.70 275.57,108.20 277.20,115.39 278.83,122.00 280.47,122.00 282.10,126.62 283.73,137.40 285.37,137.40 287.00,137.41 288.63,137.41 290.27,137.41 291.90,137.41 293.53,137.42 295.17,137.42 296.80,137.42 298.43,137.42 300.07,137.43 301.70,137.43 303.33,137.43 304.97,137.43 306.60,137.44 308.23,137.44 309.87,137.44 311.50,137.44 313.13,137.45 314.77,137.45 316.40,137.45 318.03,137.45 319.67,137.46 321.30,137.46 322.93,137.46 324.57,137.47 326.20,137.47 327.83,137.47 329.47,137.47 331.10,137.48 332.73,137.48 334.37,137.48 336.00,137.48 337.63,137.49 339.27,137.49 340.90,137.49 342.53,137.49 344.17,137.50 345.80,137.50 347.43,137.50 349.07,137.50 350.70,137.51 352.33,137.51 353.97,137.51 355.60,137.51 357.23,137.52 358.87,137.52 360.50,137.52 362.13,137.52 363.77,137.53 365.40,137.53 367.03,137.53 368.67,137.54 370.30,137.54 371.93,137.54 373.57,137.54 375.20,137.55 376.83,137.55 378.47,137.55 380.10,137.55 381.73,137.56 383.37,137.56 385.00,137.56 386.63,137.56 388.27,137.57 389.90,137.57 391.53,137.57 393.17,137.57 394.80,137.58 396.43,137.58 398.07,137.58 399.70,137.58 401.33,137.59 402.97,137.59 404.60,137.59 406.23,137.59 407.87,137.60 409.50,137.60" fill="none" stroke="#555555" stroke-width="0.70"/>
<path d="M247.8,11.4 V138.4 H409.5" fill="none" stroke="#7a7a7a" stroke-width="0.60"/>
<line x1="247.8" y1="138.4" x2="249.2" y2="138.4" stroke="#7a7a7a" stroke-width="0.60"/>
<text x="246.0" y="140.8" font-size="5.30" text-anchor="end" class="t">0.05</text>
<line x1="247.8" y1="113.0" x2="249.2" y2="113.0" stroke="#7a7a7a" stroke-width="0.60"/>
<text x="246.0" y="115.4" font-size="5.30" text-anchor="end" class="t">0.1</text>
<line x1="247.8" y1="87.6" x2="249.2" y2="87.6" stroke="#7a7a7a" stroke-width="0.60"/>
<text x="246.0" y="90.0" font-size="5.30" text-anchor="end" class="t">0.15</text>
<line x1="247.8" y1="62.2" x2="249.2" y2="62.2" stroke="#7a7a7a" stroke-width="0.60"/>
<text x="246.0" y="64.6" font-size="5.30" text-anchor="end" class="t">0.2</text>
<line x1="247.8" y1="36.8" x2="249.2" y2="36.8" stroke="#7a7a7a" stroke-width="0.60"/>
<text x="246.0" y="39.2" font-size="5.30" text-anchor="end" class="t">0.25</text>
<line x1="247.8" y1="11.4" x2="249.2" y2="11.4" stroke="#7a7a7a" stroke-width="0.60"/>
<text x="246.0" y="13.8" font-size="5.30" text-anchor="end" class="t">0.3</text>
<line x1="262.5" y1="138.4" x2="262.5" y2="137.0" stroke="#7a7a7a" stroke-width="0.60"/>
<text x="262.5" y="145.8" font-size="5.30" text-anchor="middle" class="t">10</text>
<line x1="278.8" y1="138.4" x2="278.8" y2="137.0" stroke="#7a7a7a" stroke-width="0.60"/>
<text x="278.8" y="145.8" font-size="5.30" text-anchor="middle" class="t">20</text>
<line x1="295.2" y1="138.4" x2="295.2" y2="137.0" stroke="#7a7a7a" stroke-width="0.60"/>
<text x="295.2" y="145.8" font-size="5.30" text-anchor="middle" class="t">30</text>
<line x1="311.5" y1="138.4" x2="311.5" y2="137.0" stroke="#7a7a7a" stroke-width="0.60"/>
<text x="311.5" y="145.8" font-size="5.30" text-anchor="middle" class="t">40</text>
<line x1="327.8" y1="138.4" x2="327.8" y2="137.0" stroke="#7a7a7a" stroke-width="0.60"/>
<text x="327.8" y="145.8" font-size="5.30" text-anchor="middle" class="t">50</text>
<line x1="344.2" y1="138.4" x2="344.2" y2="137.0" stroke="#7a7a7a" stroke-width="0.60"/>
<text x="344.2" y="145.8" font-size="5.30" text-anchor="middle" class="t">60</text>
<line x1="360.5" y1="138.4" x2="360.5" y2="137.0" stroke="#7a7a7a" stroke-width="0.60"/>
<text x="360.5" y="145.8" font-size="5.30" text-anchor="middle" class="t">70</text>
<line x1="376.8" y1="138.4" x2="376.8" y2="137.0" stroke="#7a7a7a" stroke-width="0.60"/>
<text x="376.8" y="145.8" font-size="5.30" text-anchor="middle" class="t">80</text>
<line x1="393.2" y1="138.4" x2="393.2" y2="137.0" stroke="#7a7a7a" stroke-width="0.60"/>
<text x="393.2" y="145.8" font-size="5.30" text-anchor="middle" class="t">90</text>
<line x1="409.5" y1="138.4" x2="409.5" y2="137.0" stroke="#7a7a7a" stroke-width="0.60"/>
<text x="409.5" y="145.8" font-size="5.30" text-anchor="middle" class="t">100</text>
<text x="328.6" y="152.8" font-size="5.30" text-anchor="middle" class="l">Iteration</text>
<text transform="translate(231.5,74.9) rotate(-90)" x="0" y="1.91" font-size="5.30" text-anchor="middle" class="l">Best Fitness</text>
<text y="7.3" font-size="5.45" font-weight="bold" class="h"><tspan x="298">LSVT</tspan><tspan font-size="4" dy="1.3">v</tspan><tspan dy="-1.3">oice</tspan><tspan font-size="4" dy="1.3">r</tspan><tspan dy="-1.3">ehabilitation</tspan></text>
<rect x="363.4" y="15.5" width="41.8" height="49.8" fill="#fff" stroke="#8a8a8a" stroke-width="0.6"/>
<line x1="364.8" y1="18.5" x2="379.2" y2="18.5" stroke="#f4b0b8" stroke-width="0.7" stroke-dasharray="0.6 0.8"/>
<text x="381.0" y="20.0" font-size="4.50" class="g">BBA</text>
<line x1="364.8" y1="24.5" x2="379.2" y2="24.5" stroke="#f49a9a" stroke-width="0.7"/>
<rect x="371.10" y="23.60" width="1.8" height="1.8" fill="#e02020"/>
<text x="381.0" y="26.0" font-size="4.50" class="g">BPSO</text>
<line x1="364.8" y1="31.5" x2="379.2" y2="31.5" stroke="#a0eea0" stroke-width="0.7" stroke-dasharray="1.6 0.9 0.5 0.9"/>
<circle cx="372.00" cy="31.50" r="0.7" fill="#50d050"/>
<text x="381.0" y="33.0" font-size="4.50" class="g">BGWO</text>
<line x1="364.8" y1="37.5" x2="379.2" y2="37.5" stroke="#a0eea0" stroke-width="0.7"/>
<circle cx="372.00" cy="37.50" r="1.25" fill="#78e078"/>
<text x="381.0" y="39.0" font-size="4.50" class="g">BDA</text>
<line x1="364.8" y1="43.5" x2="379.2" y2="43.5" stroke="#acacf2" stroke-width="0.7" stroke-dasharray="1.4 0.6"/>
<circle cx="372.00" cy="43.50" r="0.6" fill="#7070e0"/>
<text x="381.0" y="45.0" font-size="4.50" class="g">BCCSA</text>
<line x1="364.8" y1="49.5" x2="379.2" y2="49.5" stroke="#a4a4f2" stroke-width="0.7"/>
<path d="M372.00,48.10 l1.5,1.4 l-1.5,1.4 l-1.5,-1.4 z" fill="#6060e6"/>
<text x="381.0" y="51.0" font-size="4.50" class="g">BFFAG</text>
<line x1="364.8" y1="55.5" x2="379.2" y2="55.5" stroke="#9c9cf0" stroke-width="0.7"/>
<path d="M370.70,54.15 l2.6,1.35 l-2.6,1.35 z" fill="#4040d8"/>
<text x="381.0" y="57.0" font-size="4.50" class="g">BAVOA-V1</text>
<line x1="364.8" y1="61.5" x2="379.2" y2="61.5" stroke="#8c8c8c" stroke-width="0.7"/>
<text x="381.0" y="63.0" font-size="4.50" class="g">BAVOAH</text>
<polyline points="25.50,234.30 27.12,234.30 28.73,234.30 30.35,234.30 31.97,244.90 33.59,244.90 35.20,244.90 36.82,244.90 38.44,244.90 40.05,244.90 41.67,244.90 43.29,244.90 44.91,244.90 46.52,244.90 48.14,244.90 49.76,244.90 51.37,244.90 52.99,244.90 54.61,244.90 56.23,244.90 57.84,244.90 59.46,244.90 61.08,244.90 62.69,244.90 64.31,244.90 65.93,244.90 67.55,244.90 69.16,244.90 70.78,244.90 72.40,244.90 74.02,244.90 75.63,244.90 77.25,244.90 78.87,244.90 80.48,244.90 82.10,244.90 83.72,244.90 85.34,244.90 86.95,244.90 88.57,244.90 90.19,244.90 91.80,244.90 93.42,244.90 95.04,244.90 96.66,244.90 98.27,244.90 99.89,244.90 101.51,244.90 103.12,244.90 104.74,244.90 106.36,244.90 107.98,244.90 109.59,244.90 111.21,244.90 112.83,244.90 114.44,244.90 116.06,244.90 117.68,244.90 119.30,244.90 120.91,244.90 122.53,244.90 124.15,244.90 125.76,244.90 127.38,244.90 129.00,244.90 130.62,244.90 132.23,244.90 133.85,244.90 135.47,244.90 137.08,244.90 138.70,244.90 140.32,244.90 141.94,244.90 143.55,244.90 145.17,244.90 146.79,244.90 148.41,244.90 150.02,244.90 151.64,244.90 153.26,244.90 154.87,244.90 156.49,244.90 158.11,244.90 159.73,244.90 161.34,244.90 162.96,244.90 164.58,244.90 166.19,244.90 167.81,244.90 169.43,244.90 171.05,244.90 172.66,244.90 174.28,244.90 175.90,244.90 177.51,244.90 179.13,244.90 180.75,244.90 182.37,244.90 183.98,244.90 185.60,244.90" fill="none" stroke="#f08a96" stroke-width="0.60" stroke-dasharray="0.6 0.8"/>
<polyline points="25.50,235.00 27.12,235.02 28.73,235.04 30.35,235.06 31.97,235.08 33.59,235.10 35.20,235.12 36.82,235.14 38.44,235.16 40.05,235.18 41.67,235.20 43.29,235.22 44.91,235.24 46.52,235.26 48.14,235.28 49.76,235.30 51.37,235.32 52.99,235.34 54.61,235.36 56.23,235.38 57.84,235.40 59.46,235.42 61.08,235.44 62.69,235.46 64.31,235.48 65.93,235.51 67.55,235.53 69.16,235.55 70.78,235.57 72.40,235.59 74.02,235.61 75.63,235.63 77.25,235.65 78.87,235.67 80.48,235.69 82.10,235.71 83.72,235.73 85.34,235.75 86.95,235.77 88.57,235.79 90.19,235.81 91.80,235.83 93.42,235.85 95.04,235.87 96.66,235.89 98.27,235.91 99.89,235.93 101.51,235.95 103.12,235.97 104.74,235.99 106.36,236.01 107.98,236.03 109.59,236.05 111.21,236.07 112.83,236.09 114.44,236.11 116.06,236.13 117.68,236.15 119.30,236.17 120.91,236.19 122.53,236.21 124.15,236.23 125.76,236.25 127.38,236.27 129.00,236.29 130.62,236.31 132.23,236.33 133.85,236.35 135.47,236.37 137.08,236.39 138.70,236.41 140.32,236.43 141.94,236.45 143.55,236.47 145.17,236.49 146.79,236.52 148.41,236.54 150.02,236.56 151.64,236.58 153.26,236.60 154.87,236.62 156.49,236.64 158.11,236.66 159.73,236.68 161.34,236.70 162.96,236.72 164.58,236.74 166.19,236.76 167.81,236.78 169.43,236.80 171.05,236.82 172.66,236.84 174.28,236.86 175.90,236.88 177.51,236.90 179.13,236.92 180.75,236.94 182.37,236.96 183.98,236.98 185.60,237.00" fill="none" stroke="#f06060" stroke-width="0.60" marker-start="url(#m_BPSO)" marker-mid="url(#m_BPSO)" marker-end="url(#m_BPSO)"/>
<polyline points="25.50,234.30 27.12,234.30 28.73,234.30 30.35,234.30 31.97,271.60 33.59,271.60 35.20,271.60 36.82,271.60 38.44,271.60 40.05,271.60 41.67,271.60 43.29,271.60 44.91,271.60 46.52,271.60 48.14,271.60 49.76,271.60 51.37,271.60 52.99,271.60 54.61,271.60 56.23,271.60 57.84,271.60 59.46,271.60 61.08,271.60 62.69,271.60 64.31,271.60 65.93,271.60 67.55,271.60 69.16,271.60 70.78,271.60 72.40,271.60 74.02,271.60 75.63,271.60 77.25,271.60 78.87,271.60 80.48,271.60 82.10,271.60 83.72,271.60 85.34,271.60 86.95,271.60 88.57,271.60 90.19,271.60 91.80,271.60 93.42,271.60 95.04,271.60 96.66,271.60 98.27,271.60 99.89,271.60 101.51,271.60 103.12,271.60 104.74,271.60 106.36,271.60 107.98,271.60 109.59,271.60 111.21,271.60 112.83,271.60 114.44,271.60 116.06,271.60 117.68,271.60 119.30,271.60 120.91,271.60 122.53,271.60 124.15,271.60 125.76,271.60 127.38,271.60 129.00,271.60 130.62,271.60 132.23,271.60 133.85,271.60 135.47,271.60 137.08,271.60 138.70,271.60 140.32,271.60 141.94,271.60 143.55,271.60 145.17,271.60 146.79,271.60 148.41,271.60 150.02,271.60 151.64,271.60 153.26,271.60 154.87,271.60 156.49,271.60 158.11,271.60 159.73,271.60 161.34,271.60 162.96,271.60 164.58,271.60 166.19,271.60 167.81,271.60 169.43,271.60 171.05,271.60 172.66,271.60 174.28,271.60 175.90,271.60 177.51,271.60 179.13,271.60 180.75,271.60 182.37,271.60 183.98,271.60 185.60,271.60" fill="none" stroke="#70e470" stroke-width="0.80" marker-start="url(#m_BGWO)" marker-mid="url(#m_BGWO)" marker-end="url(#m_BGWO)"/>
<polyline points="25.50,235.60 27.12,235.62 28.73,235.64 30.35,235.66 31.97,235.68 33.59,235.70 35.20,235.72 36.82,235.74 38.44,235.76 40.05,235.78 41.67,235.80 43.29,235.82 44.91,235.84 46.52,235.86 48.14,235.88 49.76,235.90 51.37,235.92 52.99,235.94 54.61,235.96 56.23,235.98 57.84,236.00 59.46,236.02 61.08,236.04 62.69,236.06 64.31,236.08 65.93,236.11 67.55,236.13 69.16,236.15 70.78,236.17 72.40,236.19 74.02,236.21 75.63,236.23 77.25,236.25 78.87,236.27 80.48,236.29 82.10,236.31 83.72,236.33 85.34,236.35 86.95,236.37 88.57,236.39 90.19,236.41 91.80,236.43 93.42,236.45 95.04,236.47 96.66,236.49 98.27,236.51 99.89,236.53 101.51,236.55 103.12,236.57 104.74,236.59 106.36,236.61 107.98,236.63 109.59,236.65 111.21,236.67 112.83,236.69 114.44,236.71 116.06,236.73 117.68,236.75 119.30,236.77 120.91,236.79 122.53,236.81 124.15,236.83 125.76,236.85 127.38,236.87 129.00,236.89 130.62,236.91 132.23,236.93 133.85,236.95 135.47,236.97 137.08,236.99 138.70,237.01 140.32,237.03 141.94,237.05 143.55,237.07 145.17,237.09 146.79,237.12 148.41,237.14 150.02,237.16 151.64,237.18 153.26,237.20 154.87,237.22 156.49,237.24 158.11,237.26 159.73,237.28 161.34,237.30 162.96,237.32 164.58,237.34 166.19,237.36 167.81,237.38 169.43,237.40 171.05,237.42 172.66,237.44 174.28,237.46 175.90,237.48 177.51,237.50 179.13,237.52 180.75,237.54 182.37,237.56 183.98,237.58 185.60,237.60" fill="none" stroke="#80ea80" stroke-width="0.60" opacity="0.55" marker-start="url(#m_BDA)" marker-mid="url(#m_BDA)" marker-end="url(#m_BDA)"/>
<polyline points="25.50,233.50 27.12,233.50 28.73,233.50 30.35,233.50 31.97,233.50 33.59,233.50 35.20,233.50 36.82,233.50 38.44,233.50 40.05,233.50 41.67,233.50 43.29,233.50 44.91,244.60 46.52,244.60 48.14,244.60 49.76,244.60 51.37,244.60 52.99,244.60 54.61,244.60 56.23,244.60 57.84,285.20 59.46,285.20 61.08,285.20 62.69,285.20 64.31,285.21 65.93,285.21 67.55,285.21 69.16,285.21 70.78,285.21 72.40,285.21 74.02,285.21 75.63,285.21 77.25,285.22 78.87,285.22 80.48,285.22 82.10,285.22 83.72,285.22 85.34,285.22 86.95,285.22 88.57,285.22 90.19,285.23 91.80,285.23 93.42,285.23 95.04,285.23 96.66,285.23 98.27,285.23 99.89,285.23 101.51,285.23 103.12,285.24 104.74,285.24 106.36,285.24 107.98,285.24 109.59,285.24 111.21,285.24 112.83,285.24 114.44,285.24 116.06,285.25 117.68,285.25 119.30,285.25 120.91,285.25 122.53,285.25 124.15,285.25 125.76,285.25 127.38,285.25 129.00,285.26 130.62,285.26 132.23,285.26 133.85,285.26 135.47,285.26 137.08,285.26 138.70,285.26 140.32,285.26 141.94,285.27 143.55,285.27 145.17,285.27 146.79,285.27 148.41,285.27 150.02,285.27 151.64,285.27 153.26,285.27 154.87,285.28 156.49,285.28 158.11,285.28 159.73,285.28 161.34,285.28 162.96,285.28 164.58,285.28 166.19,285.28 167.81,285.29 169.43,285.29 171.05,285.29 172.66,285.29 174.28,285.29 175.90,285.29 177.51,285.29 179.13,285.29 180.75,285.30 182.37,285.30 183.98,285.30 185.60,285.30" fill="none" stroke="#8c8cee" stroke-width="0.75" stroke-dasharray="1.4 0.6" marker-start="url(#m_BCCSA)" marker-mid="url(#m_BCCSA)" marker-end="url(#m_BCCSA)"/>
<polyline points="25.50,223.80 27.12,223.93 28.73,224.06 30.35,224.19 31.97,224.32 33.59,224.45 35.20,224.58 36.82,224.71 38.44,224.84 40.05,224.97 41.67,225.10 43.29,225.23 44.91,225.36 46.52,225.49 48.14,225.62 49.76,225.76 51.37,225.89 52.99,226.02 54.61,226.15 56.23,226.28 57.84,226.41 59.46,226.54 61.08,226.67 62.69,226.80 64.31,226.93 65.93,227.06 67.55,227.19 69.16,227.32 70.78,227.45 72.40,227.58 74.02,227.71 75.63,227.84 77.25,227.97 78.87,228.10 80.48,228.23 82.10,228.36 83.72,228.49 85.34,228.62 86.95,228.75 88.57,228.88 90.19,229.01 91.80,229.14 93.42,229.27 95.04,229.40 96.66,229.53 98.27,229.67 99.89,229.80 101.51,229.93 103.12,230.06 104.74,230.19 106.36,230.32 107.98,230.45 109.59,230.58 111.21,230.71 112.83,230.84 114.44,230.97 116.06,231.10 117.68,231.23 119.30,231.36 120.91,231.49 122.53,231.62 124.15,231.75 125.76,231.88 127.38,272.45 129.00,272.60 130.62,272.75 132.23,272.90 133.85,273.05 135.47,273.20 137.08,273.34 138.70,273.49 140.32,273.64 141.94,273.79 143.55,273.94 145.17,274.09 146.79,274.24 148.41,274.38 150.02,274.53 151.64,274.68 153.26,274.83 154.87,274.98 156.49,275.13 158.11,275.28 159.73,275.42 161.34,275.57 162.96,275.72 164.58,275.87 166.19,276.02 167.81,276.17 169.43,276.31 171.05,276.46 172.66,276.61 174.28,276.76 175.90,276.91 177.51,277.06 179.13,277.21 180.75,277.35 182.37,277.50 183.98,277.65 185.60,277.80" fill="none" stroke="#7878ea" stroke-width="0.60" marker-start="url(#m_BFFAG)" marker-mid="url(#m_BFFAG)" marker-end="url(#m_BFFAG)"/>
<polyline points="25.50,234.30 27.12,234.30 28.73,234.30 30.35,234.30 31.97,275.80 33.59,275.81 35.20,275.83 36.82,275.84 38.44,275.85 40.05,275.87 41.67,275.88 43.29,275.89 44.91,275.91 46.52,275.92 48.14,275.94 49.76,275.95 51.37,275.96 52.99,275.98 54.61,275.99 56.23,276.00 57.84,276.02 59.46,276.03 61.08,276.04 62.69,276.06 64.31,276.07 65.93,276.09 67.55,276.10 69.16,276.11 70.78,276.13 72.40,276.14 74.02,276.15 75.63,276.17 77.25,276.18 78.87,276.20 80.48,276.21 82.10,276.22 83.72,276.24 85.34,276.25 86.95,276.26 88.57,276.28 90.19,276.29 91.80,276.31 93.42,276.32 95.04,276.33 96.66,276.35 98.27,276.36 99.89,276.37 101.51,276.39 103.12,276.40 104.74,276.41 106.36,276.43 107.98,276.44 109.59,276.46 111.21,276.47 112.83,276.48 114.44,276.50 116.06,276.51 117.68,276.52 119.30,276.54 120.91,276.55 122.53,276.57 124.15,276.58 125.76,276.59 127.38,276.61 129.00,276.62 130.62,276.63 132.23,276.65 133.85,276.66 135.47,276.68 137.08,276.69 138.70,276.70 140.32,276.72 141.94,276.73 143.55,276.74 145.17,276.76 146.79,276.77 148.41,276.78 150.02,276.80 151.64,276.81 153.26,276.83 154.87,276.84 156.49,276.85 158.11,276.87 159.73,276.88 161.34,276.89 162.96,276.91 164.58,276.92 166.19,276.94 167.81,276.95 169.43,276.96 171.05,276.98 172.66,276.99 174.28,277.00 175.90,277.02 177.51,277.03 179.13,277.05 180.75,277.06 182.37,277.07 183.98,277.09 185.60,277.10" fill="none" stroke="#6a6ae4" stroke-width="0.60" marker-start="url(#m_BAVOA)" marker-mid="url(#m_BAVOA)" marker-end="url(#m_BAVOA)"/>
<polyline points="25.50,234.30 27.12,248.54 28.73,281.41 30.35,292.91 31.97,292.92 33.59,292.93 35.20,292.94 36.82,292.95 38.44,292.97 40.05,292.98 41.67,292.99 43.29,293.00 44.91,293.01 46.52,293.02 48.14,293.04 49.76,293.05 51.37,293.06 52.99,293.07 54.61,293.08 56.23,293.09 57.84,306.95 59.46,334.10 61.08,334.10 62.69,334.10 64.31,334.10 65.93,334.10 67.55,334.10 69.16,334.10 70.78,334.10 72.40,334.10 74.02,334.10 75.63,334.10 77.25,334.10 78.87,334.10 80.48,334.10 82.10,334.10 83.72,334.10 85.34,334.10 86.95,334.10 88.57,334.10 90.19,334.10 91.80,334.10 93.42,334.10 95.04,334.10 96.66,334.10 98.27,334.10 99.89,334.10 101.51,334.10 103.12,334.10 104.74,334.10 106.36,334.10 107.98,334.10 109.59,334.10 111.21,334.10 112.83,334.10 114.44,334.10 116.06,334.10 117.68,334.10 119.30,334.10 120.91,334.10 122.53,334.10 124.15,334.10 125.76,334.10 127.38,334.10 129.00,334.10 130.62,334.10 132.23,334.10 133.85,334.10 135.47,334.10 137.08,334.10 138.70,334.10 140.32,334.10 141.94,334.10 143.55,334.10 145.17,334.10 146.79,334.10 148.41,334.10 150.02,334.10 151.64,334.10 153.26,334.10 154.87,334.10 156.49,334.10 158.11,334.10 159.73,334.10 161.34,334.10 162.96,334.10 164.58,334.10 166.19,334.10 167.81,334.10 169.43,334.10 171.05,334.10 172.66,334.10 174.28,334.10 175.90,334.10 177.51,334.10 179.13,334.10 180.75,334.10 182.37,334.10 183.98,334.10 185.60,334.10" fill="none" stroke="#555555" stroke-width="0.70"/>
<path d="M25.5,207.6 V334.6 H185.6" fill="none" stroke="#7a7a7a" stroke-width="0.60"/>
<line x1="25.5" y1="334.6" x2="26.9" y2="334.6" stroke="#7a7a7a" stroke-width="0.60"/>
<text x="23.7" y="337.0" font-size="5.30" text-anchor="end" class="t">0.02</text>
<line x1="25.5" y1="313.4" x2="26.9" y2="313.4" stroke="#7a7a7a" stroke-width="0.60"/>
<text x="23.7" y="315.8" font-size="5.30" text-anchor="end" class="t">0.025</text>
<line x1="25.5" y1="292.3" x2="26.9" y2="292.3" stroke="#7a7a7a" stroke-width="0.60"/>
<text x="23.7" y="294.7" font-size="5.30" text-anchor="end" class="t">0.03</text>
<line x1="25.5" y1="271.1" x2="26.9" y2="271.1" stroke="#7a7a7a" stroke-width="0.60"/>
<text x="23.7" y="273.5" font-size="5.30" text-anchor="end" class="t">0.035</text>
<line x1="25.5" y1="249.9" x2="26.9" y2="249.9" stroke="#7a7a7a" stroke-width="0.60"/>
<text x="23.7" y="252.3" font-size="5.30" text-anchor="end" class="t">0.04</text>
<line x1="25.5" y1="228.8" x2="26.9" y2="228.8" stroke="#7a7a7a" stroke-width="0.60"/>
<text x="23.7" y="231.2" font-size="5.30" text-anchor="end" class="t">0.045</text>
<line x1="25.5" y1="207.6" x2="26.9" y2="207.6" stroke="#7a7a7a" stroke-width="0.60"/>
<text x="23.7" y="210.0" font-size="5.30" text-anchor="end" class="t">0.05</text>
<line x1="40.1" y1="334.6" x2="40.1" y2="333.2" stroke="#7a7a7a" stroke-width="0.60"/>
<text x="40.1" y="342.0" font-size="5.30" text-anchor="middle" class="t">10</text>
<line x1="56.2" y1="334.6" x2="56.2" y2="333.2" stroke="#7a7a7a" stroke-width="0.60"/>
<text x="56.2" y="342.0" font-size="5.30" text-anchor="middle" class="t">20</text>
<line x1="72.4" y1="334.6" x2="72.4" y2="333.2" stroke="#7a7a7a" stroke-width="0.60"/>
<text x="72.4" y="342.0" font-size="5.30" text-anchor="middle" class="t">30</text>
<line x1="88.6" y1="334.6" x2="88.6" y2="333.2" stroke="#7a7a7a" stroke-width="0.60"/>
<text x="88.6" y="342.0" font-size="5.30" text-anchor="middle" class="t">40</text>
<line x1="104.7" y1="334.6" x2="104.7" y2="333.2" stroke="#7a7a7a" stroke-width="0.60"/>
<text x="104.7" y="342.0" font-size="5.30" text-anchor="middle" class="t">50</text>
<line x1="120.9" y1="334.6" x2="120.9" y2="333.2" stroke="#7a7a7a" stroke-width="0.60"/>
<text x="120.9" y="342.0" font-size="5.30" text-anchor="middle" class="t">60</text>
<line x1="137.1" y1="334.6" x2="137.1" y2="333.2" stroke="#7a7a7a" stroke-width="0.60"/>
<text x="137.1" y="342.0" font-size="5.30" text-anchor="middle" class="t">70</text>
<line x1="153.3" y1="334.6" x2="153.3" y2="333.2" stroke="#7a7a7a" stroke-width="0.60"/>
<text x="153.3" y="342.0" font-size="5.30" text-anchor="middle" class="t">80</text>
<line x1="169.4" y1="334.6" x2="169.4" y2="333.2" stroke="#7a7a7a" stroke-width="0.60"/>
<text x="169.4" y="342.0" font-size="5.30" text-anchor="middle" class="t">90</text>
<line x1="185.6" y1="334.6" x2="185.6" y2="333.2" stroke="#7a7a7a" stroke-width="0.60"/>
<text x="185.6" y="342.0" font-size="5.30" text-anchor="middle" class="t">100</text>
<text x="105.5" y="349.2" font-size="5.30" text-anchor="middle" class="l">Iteration</text>
<text transform="translate(6.2,271.1) rotate(-90)" x="0" y="1.91" font-size="5.30" text-anchor="middle" class="l">Best Fitness</text>
<text x="105.5" y="205.9" font-size="5.30" font-weight="bold" text-anchor="middle" class="h">lung</text>
<rect x="140.4" y="211.5" width="40.8" height="49.5" fill="#fff" stroke="#8a8a8a" stroke-width="0.6"/>
<line x1="141.8" y1="215.5" x2="156.7" y2="215.5" stroke="#f4b0b8" stroke-width="0.7" stroke-dasharray="0.6 0.8"/>
<text x="158.1" y="217.0" font-size="4.50" class="g">BBA</text>
<line x1="141.8" y1="221.5" x2="156.7" y2="221.5" stroke="#f49a9a" stroke-width="0.7"/>
<rect x="148.35" y="220.60" width="1.8" height="1.8" fill="#e02020"/>
<text x="158.1" y="223.0" font-size="4.50" class="g">BPSO</text>
<line x1="141.8" y1="227.5" x2="156.7" y2="227.5" stroke="#a0eea0" stroke-width="0.7" stroke-dasharray="1.6 0.9 0.5 0.9"/>
<circle cx="149.25" cy="227.50" r="0.7" fill="#50d050"/>
<text x="158.1" y="229.0" font-size="4.50" class="g">BGWO</text>
<line x1="141.8" y1="233.5" x2="156.7" y2="233.5" stroke="#a0eea0" stroke-width="0.7"/>
<circle cx="149.25" cy="233.50" r="1.25" fill="#78e078"/>
<text x="158.1" y="235.0" font-size="4.50" class="g">BDA</text>
<line x1="141.8" y1="239.5" x2="156.7" y2="239.5" stroke="#acacf2" stroke-width="0.7" stroke-dasharray="1.4 0.6"/>
<circle cx="149.25" cy="239.50" r="0.6" fill="#7070e0"/>
<text x="158.1" y="241.0" font-size="4.50" class="g">BCCSA</text>
<line x1="141.8" y1="246.5" x2="156.7" y2="246.5" stroke="#a4a4f2" stroke-width="0.7"/>
<path d="M149.25,245.10 l1.5,1.4 l-1.5,1.4 l-1.5,-1.4 z" fill="#6060e6"/>
<text x="158.1" y="248.0" font-size="4.50" class="g">BFFAG</text>
<line x1="141.8" y1="252.5" x2="156.7" y2="252.5" stroke="#9c9cf0" stroke-width="0.7"/>
<path d="M147.95,251.15 l2.6,1.35 l-2.6,1.35 z" fill="#4040d8"/>
<text x="158.1" y="254.0" font-size="4.50" class="g">BAVOA-V1</text>
<line x1="141.8" y1="258.5" x2="156.7" y2="258.5" stroke="#8c8c8c" stroke-width="0.7"/>
<text x="158.1" y="260.0" font-size="4.50" class="g">BAVOAH</text>
<polyline points="241.70,253.00 243.38,335.84 245.07,336.80 246.75,336.80 248.43,336.80 250.11,336.80 251.80,336.80 253.48,336.80 255.16,336.80 256.85,336.80 258.53,336.80 260.21,336.80 261.89,336.80 263.58,336.80 265.26,336.80 266.94,336.80 268.63,336.80 270.31,336.80 271.99,336.80 273.67,336.80 275.36,336.80 277.04,336.80 278.72,336.80 280.41,336.80 282.09,336.80 283.77,336.80 285.45,336.80 287.14,336.80 288.82,336.80 290.50,336.80 292.18,336.80 293.87,336.80 295.55,336.80 297.23,336.80 298.92,336.80 300.60,336.80 302.28,336.80 303.96,336.80 305.65,336.80 307.33,336.80 309.01,336.80 310.70,336.80 312.38,336.80 314.06,336.80 315.74,336.80 317.43,336.80 319.11,336.80 320.79,336.80 322.48,336.80 324.16,336.80 325.84,336.80 327.52,336.80 329.21,336.80 330.89,336.80 332.57,336.80 334.26,336.80 335.94,336.80 337.62,336.80 339.30,336.80 340.99,336.80 342.67,336.80 344.35,336.80 346.04,336.80 347.72,336.80 349.40,336.80 351.08,336.80 352.77,336.80 354.45,336.80 356.13,336.80 357.82,336.80 359.50,336.80 361.18,336.80 362.86,336.80 364.55,336.80 366.23,336.80 367.91,336.80 369.59,336.80 371.28,336.80 372.96,336.80 374.64,336.80 376.33,336.80 378.01,336.80 379.69,336.80 381.37,336.80 383.06,336.80 384.74,336.80 386.42,336.80 388.11,336.80 389.79,336.80 391.47,336.80 393.15,336.80 394.84,336.80 396.52,336.80 398.20,336.80 399.89,336.80 401.57,336.80 403.25,336.80 404.93,336.80 406.62,336.80 408.30,336.80" fill="none" stroke="#f08a96" stroke-width="0.60" stroke-dasharray="0.6 0.8"/>
<polyline points="241.70,253.10 243.38,253.10 245.07,253.10 246.75,253.10 248.43,253.10 250.11,280.90 251.80,280.90 253.48,280.90 255.16,280.90 256.85,280.90 258.53,280.90 260.21,280.90 261.89,280.90 263.58,280.90 265.26,280.90 266.94,280.90 268.63,280.90 270.31,280.90 271.99,280.90 273.67,280.90 275.36,280.90 277.04,280.90 278.72,280.90 280.41,280.90 282.09,280.90 283.77,280.90 285.45,280.90 287.14,280.90 288.82,280.90 290.50,280.90 292.18,280.90 293.87,280.90 295.55,280.90 297.23,280.90 298.92,280.90 300.60,280.90 302.28,280.90 303.96,280.90 305.65,280.90 307.33,280.90 309.01,280.90 310.70,280.90 312.38,280.90 314.06,280.90 315.74,280.90 317.43,280.90 319.11,280.90 320.79,280.90 322.48,280.90 324.16,280.90 325.84,280.90 327.52,280.90 329.21,280.90 330.89,280.90 332.57,280.90 334.26,280.90 335.94,280.90 337.62,280.90 339.30,280.90 340.99,280.90 342.67,280.90 344.35,280.90 346.04,280.90 347.72,280.90 349.40,280.90 351.08,280.90 352.77,280.90 354.45,280.90 356.13,280.90 357.82,280.90 359.50,280.90 361.18,280.90 362.86,280.90 364.55,280.90 366.23,280.90 367.91,280.90 369.59,280.90 371.28,280.90 372.96,280.90 374.64,280.90 376.33,280.90 378.01,280.90 379.69,280.90 381.37,280.90 383.06,280.90 384.74,280.90 386.42,280.90 388.11,280.90 389.79,280.90 391.47,280.90 393.15,280.90 394.84,280.90 396.52,280.90 398.20,280.90 399.89,280.90 401.57,280.90 403.25,280.90 404.93,280.90 406.62,280.90 408.30,280.90" fill="none" stroke="#f06060" stroke-width="0.60" marker-start="url(#m_BPSO)" marker-mid="url(#m_BPSO)" marker-end="url(#m_BPSO)"/>
<polyline points="241.70,253.00 243.38,280.72 245.07,281.00 246.75,281.00 248.43,281.00 250.11,281.00 251.80,281.00 253.48,281.00 255.16,281.00 256.85,281.00 258.53,281.00 260.21,281.00 261.89,281.00 263.58,281.00 265.26,281.00 266.94,281.00 268.63,281.00 270.31,281.00 271.99,281.00 273.67,281.00 275.36,281.00 277.04,308.00 278.72,307.99 280.41,307.99 282.09,307.99 283.77,307.98 285.45,307.98 287.14,307.98 288.82,307.97 290.50,307.97 292.18,307.96 293.87,307.96 295.55,307.96 297.23,307.95 298.92,307.95 300.60,307.94 302.28,307.94 303.96,307.94 305.65,307.93 307.33,307.93 309.01,307.93 310.70,307.92 312.38,307.92 314.06,307.91 315.74,307.91 317.43,307.91 319.11,307.90 320.79,307.90 322.48,307.89 324.16,307.89 325.84,307.89 327.52,307.88 329.21,307.88 330.89,307.88 332.57,307.87 334.26,307.87 335.94,307.86 337.62,307.86 339.30,307.86 340.99,307.85 342.67,307.85 344.35,307.85 346.04,307.84 347.72,307.84 349.40,307.83 351.08,307.83 352.77,307.83 354.45,307.82 356.13,307.82 357.82,307.81 359.50,307.81 361.18,307.81 362.86,307.80 364.55,307.80 366.23,307.80 367.91,307.79 369.59,307.79 371.28,307.78 372.96,307.78 374.64,307.78 376.33,307.77 378.01,307.77 379.69,307.76 381.37,307.76 383.06,307.76 384.74,307.75 386.42,307.75 388.11,307.75 389.79,307.74 391.47,307.74 393.15,307.73 394.84,307.73 396.52,307.73 398.20,307.72 399.89,307.72 401.57,307.72 403.25,307.71 404.93,307.71 406.62,307.70 408.30,307.70" fill="none" stroke="#70e470" stroke-width="0.80" marker-start="url(#m_BGWO)" marker-mid="url(#m_BGWO)" marker-end="url(#m_BGWO)"/>
<polyline points="241.70,281.00 243.38,281.00 245.07,281.00 246.75,281.00 248.43,281.00 250.11,281.00 251.80,281.00 253.48,281.00 255.16,281.00 256.85,281.00 258.53,281.00 260.21,308.00 261.89,308.00 263.58,308.00 265.26,308.00 266.94,308.00 268.63,308.00 270.31,308.00 271.99,308.00 273.67,308.00 275.36,308.00 277.04,308.00 278.72,308.00 280.41,308.00 282.09,308.00 283.77,308.00 285.45,308.00 287.14,335.50 288.82,335.50 290.50,335.50 292.18,335.50 293.87,335.50 295.55,335.50 297.23,335.50 298.92,335.50 300.60,335.50 302.28,335.50 303.96,335.50 305.65,335.50 307.33,335.50 309.01,335.50 310.70,335.50 312.38,335.50 314.06,335.50 315.74,335.50 317.43,335.50 319.11,335.50 320.79,335.50 322.48,335.50 324.16,335.50 325.84,335.50 327.52,335.50 329.21,335.50 330.89,335.50 332.57,335.50 334.26,335.50 335.94,335.50 337.62,335.50 339.30,335.50 340.99,335.50 342.67,335.50 344.35,335.50 346.04,335.50 347.72,335.50 349.40,335.50 351.08,335.50 352.77,335.50 354.45,335.50 356.13,335.50 357.82,335.50 359.50,335.50 361.18,335.50 362.86,335.50 364.55,335.50 366.23,335.50 367.91,335.50 369.59,335.50 371.28,335.50 372.96,335.50 374.64,335.50 376.33,335.50 378.01,335.50 379.69,335.50 381.37,335.50 383.06,335.50 384.74,335.50 386.42,335.50 388.11,335.50 389.79,335.50 391.47,335.50 393.15,335.50 394.84,335.50 396.52,335.50 398.20,335.50 399.89,335.50 401.57,335.50 403.25,335.50 404.93,335.50 406.62,335.50 408.30,335.50" fill="none" stroke="#80ea80" stroke-width="0.60" marker-start="url(#m_BDA)" marker-mid="url(#m_BDA)" marker-end="url(#m_BDA)"/>
<polyline points="241.70,226.00 243.38,226.00 245.07,226.00 246.75,226.00 248.43,226.00 250.11,226.00 251.80,226.00 253.48,226.00 255.16,226.00 256.85,226.00 258.53,226.00 260.21,226.00 261.89,226.90 263.58,226.90 265.26,226.90 266.94,226.90 268.63,226.90 270.31,226.90 271.99,226.90 273.67,226.90 275.36,226.90 277.04,254.20 278.72,254.20 280.41,254.19 282.09,254.19 283.77,254.19 285.45,254.18 287.14,254.18 288.82,254.18 290.50,254.17 292.18,254.17 293.87,254.17 295.55,254.16 297.23,254.16 298.92,254.16 300.60,254.15 302.28,254.15 303.96,254.15 305.65,254.14 307.33,254.14 309.01,254.14 310.70,254.13 312.38,254.13 314.06,254.13 315.74,254.12 317.43,254.12 319.11,254.12 320.79,254.11 322.48,254.11 324.16,254.11 325.84,254.10 327.52,254.10 329.21,254.10 330.89,254.09 332.57,254.09 334.26,254.09 335.94,254.08 337.62,254.08 339.30,254.08 340.99,254.07 342.67,254.07 344.35,254.07 346.04,254.06 347.72,254.06 349.40,254.06 351.08,254.05 352.77,254.05 354.45,254.05 356.13,254.04 357.82,254.04 359.50,254.04 361.18,254.03 362.86,254.03 364.55,254.03 366.23,254.02 367.91,254.02 369.59,254.02 371.28,254.01 372.96,254.01 374.64,254.01 376.33,254.00 378.01,254.00 379.69,280.90 381.37,280.90 383.06,280.90 384.74,280.90 386.42,280.90 388.11,280.90 389.79,280.90 391.47,280.90 393.15,280.90 394.84,280.90 396.52,280.90 398.20,280.90 399.89,280.90 401.57,280.90 403.25,280.90 404.93,280.90 406.62,280.90 408.30,280.90" fill="none" stroke="#8c8cee" stroke-width="0.75" stroke-dasharray="1.4 0.6" marker-start="url(#m_BCCSA)" marker-mid="url(#m_BCCSA)" marker-end="url(#m_BCCSA)"/>
<polyline points="241.70,279.60 243.38,279.70 245.07,279.80 246.75,279.90 248.43,279.99 250.11,280.09 251.80,280.19 253.48,280.29 255.16,280.39 256.85,280.49 258.53,280.59 260.21,280.68 261.89,280.78 263.58,280.88 265.26,280.98 266.94,308.51 268.63,308.52 270.31,308.53 271.99,308.54 273.67,308.56 275.36,308.57 277.04,308.58 278.72,308.59 280.41,308.61 282.09,308.62 283.77,308.63 285.45,308.64 287.14,308.66 288.82,308.67 290.50,308.68 292.18,308.69 293.87,308.71 295.55,308.72 297.23,308.73 298.92,308.74 300.60,308.76 302.28,308.77 303.96,308.78 305.65,308.79 307.33,308.81 309.01,308.82 310.70,308.83 312.38,308.84 314.06,308.86 315.74,308.87 317.43,308.88 319.11,308.89 320.79,308.91 322.48,308.92 324.16,308.93 325.84,308.95 327.52,308.96 329.21,308.97 330.89,308.98 332.57,309.00 334.26,309.01 335.94,309.02 337.62,309.03 339.30,309.05 340.99,309.06 342.67,309.07 344.35,309.08 346.04,309.10 347.72,309.11 349.40,309.12 351.08,309.13 352.77,309.15 354.45,309.16 356.13,309.17 357.82,309.18 359.50,309.20 361.18,335.70 362.86,335.70 364.55,335.70 366.23,335.70 367.91,335.70 369.59,335.70 371.28,335.70 372.96,335.70 374.64,335.70 376.33,335.70 378.01,335.70 379.69,335.70 381.37,335.70 383.06,335.70 384.74,335.70 386.42,335.70 388.11,335.70 389.79,335.70 391.47,335.70 393.15,335.70 394.84,335.70 396.52,335.70 398.20,335.70 399.89,335.70 401.57,335.70 403.25,335.70 404.93,335.70 406.62,335.70 408.30,335.70" fill="none" stroke="#7878ea" stroke-width="0.60" marker-start="url(#m_BFFAG)" marker-mid="url(#m_BFFAG)" marker-end="url(#m_BFFAG)"/>
<polyline points="241.70,280.00 243.38,280.00 245.07,308.00 246.75,308.00 248.43,308.00 250.11,308.00 251.80,308.00 253.48,308.00 255.16,308.00 256.85,308.00 258.53,308.00 260.21,335.00 261.89,335.01 263.58,335.01 265.26,335.02 266.94,335.03 268.63,335.03 270.31,335.04 271.99,335.04 273.67,335.05 275.36,335.05 277.04,335.06 278.72,335.07 280.41,335.07 282.09,335.08 283.77,335.08 285.45,335.09 287.14,335.09 288.82,335.10 290.50,335.10 292.18,335.11 293.87,335.12 295.55,335.12 297.23,335.13 298.92,335.13 300.60,335.14 302.28,335.14 303.96,335.15 305.65,335.16 307.33,335.16 309.01,335.17 310.70,335.17 312.38,335.18 314.06,335.18 315.74,335.19 317.43,335.20 319.11,335.20 320.79,335.21 322.48,335.21 324.16,335.22 325.84,335.22 327.52,335.23 329.21,335.23 330.89,335.24 332.57,335.25 334.26,335.25 335.94,335.26 337.62,335.26 339.30,335.27 340.99,335.27 342.67,335.28 344.35,335.29 346.04,335.29 347.72,335.30 349.40,335.30 351.08,335.31 352.77,335.31 354.45,335.32 356.13,335.33 357.82,335.33 359.50,335.34 361.18,335.34 362.86,335.35 364.55,335.35 366.23,335.36 367.91,335.36 369.59,335.37 371.28,335.38 372.96,335.38 374.64,335.39 376.33,335.39 378.01,335.40 379.69,335.40 381.37,335.41 383.06,335.42 384.74,335.42 386.42,335.43 388.11,335.43 389.79,335.44 391.47,335.44 393.15,335.45 394.84,335.45 396.52,335.46 398.20,335.47 399.89,335.47 401.57,335.48 403.25,335.48 404.93,335.49 406.62,335.49 408.30,335.50" fill="none" stroke="#6a6ae4" stroke-width="0.60" marker-start="url(#m_BAVOA)" marker-mid="url(#m_BAVOA)" marker-end="url(#m_BAVOA)"/>
<polyline points="241.70,205.50 243.38,233.06 245.07,253.02 246.75,253.11 248.43,253.20 250.11,280.80 251.80,280.80 253.48,280.80 255.16,280.80 256.85,280.80 258.53,280.80 260.21,308.00 261.89,308.00 263.58,308.00 265.26,308.00 266.94,308.00 268.63,308.00 270.31,308.00 271.99,308.00 273.67,335.00 275.36,335.01 277.04,335.01 278.72,335.01 280.41,335.02 282.09,335.02 283.77,335.02 285.45,335.03 287.14,335.03 288.82,335.04 290.50,335.04 292.18,335.04 293.87,335.05 295.55,335.05 297.23,335.05 298.92,335.06 300.60,335.06 302.28,335.07 303.96,335.07 305.65,335.07 307.33,335.08 309.01,335.08 310.70,335.08 312.38,335.09 314.06,335.09 315.74,335.09 317.43,335.10 319.11,335.10 320.79,335.11 322.48,335.11 324.16,335.11 325.84,335.12 327.52,335.12 329.21,335.12 330.89,335.13 332.57,335.13 334.26,335.14 335.94,335.14 337.62,335.14 339.30,335.15 340.99,335.15 342.67,335.15 344.35,335.16 346.04,335.16 347.72,335.17 349.40,335.17 351.08,335.17 352.77,335.18 354.45,335.18 356.13,335.18 357.82,335.19 359.50,335.19 361.18,335.20 362.86,335.20 364.55,335.20 366.23,335.21 367.91,335.21 369.59,335.21 371.28,335.22 372.96,335.22 374.64,335.23 376.33,335.23 378.01,335.23 379.69,335.24 381.37,335.24 383.06,335.24 384.74,335.25 386.42,335.25 388.11,335.26 389.79,335.26 391.47,335.26 393.15,335.27 394.84,335.27 396.52,335.27 398.20,335.28 399.89,335.28 401.57,335.29 403.25,335.29 404.93,335.29 406.62,335.30 408.30,335.30" fill="none" stroke="#555555" stroke-width="0.70"/>
<path d="M241.7,205.1 V337.0 H408.3" fill="none" stroke="#7a7a7a" stroke-width="0.60"/>
<line x1="241.7" y1="337.0" x2="243.1" y2="337.0" stroke="#7a7a7a" stroke-width="0.60"/>
<text x="239.9" y="339.4" font-size="5.62" text-anchor="end" class="t">0</text>
<line x1="241.7" y1="315.0" x2="243.1" y2="315.0" stroke="#7a7a7a" stroke-width="0.60"/>
<text x="239.9" y="317.4" font-size="5.62" text-anchor="end" class="t">0.05</text>
<line x1="241.7" y1="293.0" x2="243.1" y2="293.0" stroke="#7a7a7a" stroke-width="0.60"/>
<text x="239.9" y="295.4" font-size="5.62" text-anchor="end" class="t">0.1</text>
<line x1="241.7" y1="271.0" x2="243.1" y2="271.0" stroke="#7a7a7a" stroke-width="0.60"/>
<text x="239.9" y="273.5" font-size="5.62" text-anchor="end" class="t">0.15</text>
<line x1="241.7" y1="249.1" x2="243.1" y2="249.1" stroke="#7a7a7a" stroke-width="0.60"/>
<text x="239.9" y="251.5" font-size="5.62" text-anchor="end" class="t">0.2</text>
<line x1="241.7" y1="227.1" x2="243.1" y2="227.1" stroke="#7a7a7a" stroke-width="0.60"/>
<text x="239.9" y="229.5" font-size="5.62" text-anchor="end" class="t">0.25</text>
<line x1="241.7" y1="205.1" x2="243.1" y2="205.1" stroke="#7a7a7a" stroke-width="0.60"/>
<text x="239.9" y="207.5" font-size="5.62" text-anchor="end" class="t">0.3</text>
<line x1="256.8" y1="337.0" x2="256.8" y2="335.6" stroke="#7a7a7a" stroke-width="0.60"/>
<text x="256.8" y="344.9" font-size="5.62" text-anchor="middle" class="t">10</text>
<line x1="273.7" y1="337.0" x2="273.7" y2="335.6" stroke="#7a7a7a" stroke-width="0.60"/>
<text x="273.7" y="344.9" font-size="5.62" text-anchor="middle" class="t">20</text>
<line x1="290.5" y1="337.0" x2="290.5" y2="335.6" stroke="#7a7a7a" stroke-width="0.60"/>
<text x="290.5" y="344.9" font-size="5.62" text-anchor="middle" class="t">30</text>
<line x1="307.3" y1="337.0" x2="307.3" y2="335.6" stroke="#7a7a7a" stroke-width="0.60"/>
<text x="307.3" y="344.9" font-size="5.62" text-anchor="middle" class="t">40</text>
<line x1="324.2" y1="337.0" x2="324.2" y2="335.6" stroke="#7a7a7a" stroke-width="0.60"/>
<text x="324.2" y="344.9" font-size="5.62" text-anchor="middle" class="t">50</text>
<line x1="341.0" y1="337.0" x2="341.0" y2="335.6" stroke="#7a7a7a" stroke-width="0.60"/>
<text x="341.0" y="344.9" font-size="5.62" text-anchor="middle" class="t">60</text>
<line x1="357.8" y1="337.0" x2="357.8" y2="335.6" stroke="#7a7a7a" stroke-width="0.60"/>
<text x="357.8" y="344.9" font-size="5.62" text-anchor="middle" class="t">70</text>
<line x1="374.6" y1="337.0" x2="374.6" y2="335.6" stroke="#7a7a7a" stroke-width="0.60"/>
<text x="374.6" y="344.9" font-size="5.62" text-anchor="middle" class="t">80</text>
<line x1="391.5" y1="337.0" x2="391.5" y2="335.6" stroke="#7a7a7a" stroke-width="0.60"/>
<text x="391.5" y="344.9" font-size="5.62" text-anchor="middle" class="t">90</text>
<line x1="408.3" y1="337.0" x2="408.3" y2="335.6" stroke="#7a7a7a" stroke-width="0.60"/>
<text x="408.3" y="344.9" font-size="5.62" text-anchor="middle" class="t">100</text>
<text x="325.0" y="352.1" font-size="5.62" text-anchor="middle" class="l">Iteration</text>
<text transform="translate(224.3,271.1) rotate(-90)" x="0" y="1.91" font-size="5.62" text-anchor="middle" class="l">Best Fitness</text>
<text x="325" y="203.3" font-size="5.51" font-weight="bold" text-anchor="middle" class="h">lungcancer</text>
<rect x="361.4" y="208.7" width="43.4" height="52.4" fill="#fff" stroke="#8a8a8a" stroke-width="0.6"/>
<line x1="362.7" y1="212.5" x2="377.8" y2="212.5" stroke="#f4b0b8" stroke-width="0.7" stroke-dasharray="0.6 0.8"/>
<text x="379.8" y="214.0" font-size="4.77" class="g">BBA</text>
<line x1="362.7" y1="219.5" x2="377.8" y2="219.5" stroke="#f49a9a" stroke-width="0.7"/>
<rect x="369.35" y="218.60" width="1.8" height="1.8" fill="#e02020"/>
<text x="379.8" y="221.0" font-size="4.77" class="g">BPSO</text>
<line x1="362.7" y1="225.5" x2="377.8" y2="225.5" stroke="#a0eea0" stroke-width="0.7" stroke-dasharray="1.6 0.9 0.5 0.9"/>
<circle cx="370.25" cy="225.50" r="0.7" fill="#50d050"/>
<text x="379.8" y="227.0" font-size="4.77" class="g">BGWO</text>
<line x1="362.7" y1="232.5" x2="377.8" y2="232.5" stroke="#a0eea0" stroke-width="0.7"/>
<circle cx="370.25" cy="232.50" r="1.25" fill="#78e078"/>
<text x="379.8" y="234.0" font-size="4.77" class="g">BDA</text>
<line x1="362.7" y1="238.5" x2="377.8" y2="238.5" stroke="#acacf2" stroke-width="0.7" stroke-dasharray="1.4 0.6"/>
<circle cx="370.25" cy="238.50" r="0.6" fill="#7070e0"/>
<text x="379.8" y="240.0" font-size="4.77" class="g">BCCSA</text>
<line x1="362.7" y1="244.5" x2="377.8" y2="244.5" stroke="#a4a4f2" stroke-width="0.7"/>
<path d="M370.25,243.10 l1.5,1.4 l-1.5,1.4 l-1.5,-1.4 z" fill="#6060e6"/>
<text x="379.8" y="246.0" font-size="4.77" class="g">BFFAG</text>
<line x1="362.7" y1="251.5" x2="377.8" y2="251.5" stroke="#9c9cf0" stroke-width="0.7"/>
<path d="M368.95,250.15 l2.6,1.35 l-2.6,1.35 z" fill="#4040d8"/>
<text x="379.8" y="253.0" font-size="4.77" class="g">BAVOA-V1</text>
<line x1="362.7" y1="257.5" x2="377.8" y2="257.5" stroke="#8c8c8c" stroke-width="0.7"/>
<text x="379.8" y="259.0" font-size="4.77" class="g">BAVOAH</text>
<polyline points="26.20,445.00 27.81,455.75 29.41,460.40 31.02,460.40 32.62,460.41 34.23,460.41 35.84,460.41 37.44,460.41 39.05,460.41 40.65,460.42 42.26,460.42 43.87,460.42 45.47,460.42 47.08,460.42 48.68,460.43 50.29,460.43 51.90,460.43 53.50,460.43 55.11,460.43 56.72,460.44 58.32,460.44 59.93,460.44 61.53,460.44 63.14,460.44 64.75,460.45 66.35,460.45 67.96,460.45 69.56,460.45 71.17,460.45 72.78,460.46 74.38,460.46 75.99,460.46 77.59,460.46 79.20,460.46 80.81,460.47 82.41,460.47 84.02,460.47 85.62,460.47 87.23,460.47 88.84,460.48 90.44,460.48 92.05,460.48 93.65,460.48 95.26,460.49 96.87,460.49 98.47,460.49 100.08,460.49 101.68,460.49 103.29,460.50 104.90,460.50 106.50,460.50 108.11,460.50 109.72,460.50 111.32,460.51 112.93,460.51 114.53,460.51 116.14,460.51 117.75,460.51 119.35,460.52 120.96,460.52 122.56,460.52 124.17,460.52 125.78,460.52 127.38,460.53 128.99,460.53 130.59,460.53 132.20,460.53 133.81,460.53 135.41,460.54 137.02,460.54 138.62,460.54 140.23,460.54 141.84,460.54 143.44,460.55 145.05,460.55 146.65,460.55 148.26,460.55 149.87,460.55 151.47,460.56 153.08,460.56 154.68,460.56 156.29,460.56 157.90,460.57 159.50,460.57 161.11,460.57 162.72,460.57 164.32,460.57 165.93,460.58 167.53,460.58 169.14,460.58 170.75,460.58 172.35,460.58 173.96,460.59 175.56,460.59 177.17,460.59 178.78,460.59 180.38,460.59 181.99,460.60 183.59,460.60 185.20,460.60" fill="none" stroke="#f08a96" stroke-width="0.60" stroke-dasharray="0.6 0.8"/>
<polyline points="26.20,457.50 27.81,469.01 29.41,470.40 31.02,470.40 32.62,470.40 34.23,482.70 35.84,482.70 37.44,482.70 39.05,482.70 40.65,495.40 42.26,495.40 43.87,495.40 45.47,495.40 47.08,495.40 48.68,495.40 50.29,495.40 51.90,495.40 53.50,495.40 55.11,507.90 56.72,507.90 58.32,507.90 59.93,507.90 61.53,507.90 63.14,507.90 64.75,507.90 66.35,507.90 67.96,507.90 69.56,507.90 71.17,507.90 72.78,507.90 74.38,507.90 75.99,507.90 77.59,521.00 79.20,521.00 80.81,521.01 82.41,521.01 84.02,521.01 85.62,521.02 87.23,521.02 88.84,521.02 90.44,521.02 92.05,521.03 93.65,521.03 95.26,521.03 96.87,521.04 98.47,521.04 100.08,521.04 101.68,521.04 103.29,521.05 104.90,521.05 106.50,521.05 108.11,521.06 109.72,521.06 111.32,521.06 112.93,521.07 114.53,521.07 116.14,521.07 117.75,521.07 119.35,521.08 120.96,521.08 122.56,521.08 124.17,521.09 125.78,521.09 127.38,521.09 128.99,521.10 130.59,521.10 132.20,521.10 133.81,521.10 135.41,521.11 137.02,521.11 138.62,521.11 140.23,521.12 141.84,521.12 143.44,521.12 145.05,521.13 146.65,521.13 148.26,521.13 149.87,521.13 151.47,521.14 153.08,521.14 154.68,521.14 156.29,521.15 157.90,521.15 159.50,521.15 161.11,521.16 162.72,521.16 164.32,521.16 165.93,521.16 167.53,521.17 169.14,521.17 170.75,521.17 172.35,521.18 173.96,521.18 175.56,521.18 177.17,521.19 178.78,521.19 180.38,521.19 181.99,521.19 183.59,521.20 185.20,521.20" fill="none" stroke="#f06060" stroke-width="0.60" marker-start="url(#m_BPSO)" marker-mid="url(#m_BPSO)" marker-end="url(#m_BPSO)"/>
<polyline points="26.20,407.90 27.81,442.25 29.41,478.90 31.02,478.90 32.62,478.90 34.23,480.39 35.84,485.96 37.44,491.58 39.05,497.32 40.65,501.80 42.26,501.81 43.87,501.81 45.47,501.82 47.08,501.82 48.68,501.83 50.29,501.83 51.90,501.84 53.50,501.85 55.11,501.85 56.72,501.86 58.32,501.86 59.93,501.87 61.53,501.87 63.14,501.88 64.75,501.88 66.35,501.89 67.96,501.90 69.56,501.90 71.17,501.91 72.78,501.91 74.38,501.92 75.99,501.92 77.59,501.93 79.20,501.93 80.81,501.94 82.41,501.95 84.02,501.95 85.62,501.96 87.23,501.96 88.84,501.97 90.44,501.97 92.05,501.98 93.65,501.98 95.26,501.99 96.87,502.00 98.47,502.00 100.08,502.01 101.68,502.01 103.29,502.02 104.90,502.02 106.50,502.03 108.11,502.03 109.72,502.04 111.32,502.05 112.93,502.05 114.53,502.06 116.14,502.06 117.75,502.07 119.35,502.07 120.96,502.08 122.56,502.08 124.17,502.09 125.78,502.09 127.38,502.10 128.99,502.11 130.59,502.11 132.20,502.12 133.81,502.12 135.41,502.13 137.02,502.13 138.62,502.14 140.23,502.14 141.84,502.15 143.44,502.16 145.05,502.16 146.65,502.17 148.26,502.17 149.87,502.18 151.47,502.18 153.08,502.19 154.68,502.19 156.29,502.20 157.90,502.21 159.50,502.21 161.11,502.22 162.72,502.22 164.32,502.23 165.93,502.23 167.53,502.24 169.14,502.24 170.75,502.25 172.35,502.26 173.96,502.26 175.56,502.27 177.17,502.27 178.78,502.28 180.38,502.28 181.99,502.29 183.59,502.29 185.20,502.30" fill="none" stroke="#70e470" stroke-width="0.80" marker-start="url(#m_BGWO)" marker-mid="url(#m_BGWO)" marker-end="url(#m_BGWO)"/>
<polyline points="26.20,420.00 27.81,433.82 29.41,438.35 31.02,452.50 32.62,452.50 34.23,452.50 35.84,452.50 37.44,452.50 39.05,452.50 40.65,478.90 42.26,478.90 43.87,478.90 45.47,478.90 47.08,478.90 48.68,478.90 50.29,478.90 51.90,478.90 53.50,478.90 55.11,478.90 56.72,478.90 58.32,478.90 59.93,478.90 61.53,478.90 63.14,492.30 64.75,492.30 66.35,492.30 67.96,492.30 69.56,492.30 71.17,492.30 72.78,492.30 74.38,492.30 75.99,492.30 77.59,505.00 79.20,505.00 80.81,505.00 82.41,505.00 84.02,505.00 85.62,505.00 87.23,505.00 88.84,505.00 90.44,505.00 92.05,505.00 93.65,505.00 95.26,505.00 96.87,505.00 98.47,505.00 100.08,505.00 101.68,505.00 103.29,505.00 104.90,505.00 106.50,505.00 108.11,505.00 109.72,505.00 111.32,517.50 112.93,517.50 114.53,517.50 116.14,517.50 117.75,517.50 119.35,517.50 120.96,517.50 122.56,517.50 124.17,517.50 125.78,517.50 127.38,517.50 128.99,517.50 130.59,517.50 132.20,517.50 133.81,517.50 135.41,517.50 137.02,517.50 138.62,517.50 140.23,517.50 141.84,517.50 143.44,517.50 145.05,517.50 146.65,517.50 148.26,517.50 149.87,517.50 151.47,517.50 153.08,517.50 154.68,517.50 156.29,517.50 157.90,517.50 159.50,517.50 161.11,517.50 162.72,517.50 164.32,517.50 165.93,517.50 167.53,517.50 169.14,517.50 170.75,517.50 172.35,517.50 173.96,517.50 175.56,517.50 177.17,517.50 178.78,517.50 180.38,517.50 181.99,517.50 183.59,517.50 185.20,517.50" fill="none" stroke="#80ea80" stroke-width="0.60" marker-start="url(#m_BDA)" marker-mid="url(#m_BDA)" marker-end="url(#m_BDA)"/>
<polyline points="26.20,440.00 27.81,444.13 29.41,445.40 31.02,445.40 32.62,445.40 34.23,445.40 35.84,445.40 37.44,445.40 39.05,445.40 40.65,445.40 42.26,445.40 43.87,445.40 45.47,445.40 47.08,445.40 48.68,445.40 50.29,445.40 51.90,445.40 53.50,445.40 55.11,445.40 56.72,445.40 58.32,445.40 59.93,445.40 61.53,445.40 63.14,445.40 64.75,445.40 66.35,445.40 67.96,445.40 69.56,445.40 71.17,445.40 72.78,445.40 74.38,445.40 75.99,445.40 77.59,445.40 79.20,445.40 80.81,445.40 82.41,445.40 84.02,445.40 85.62,445.40 87.23,445.40 88.84,445.40 90.44,445.40 92.05,445.40 93.65,445.40 95.26,445.40 96.87,445.40 98.47,445.40 100.08,445.40 101.68,445.40 103.29,445.40 104.90,445.40 106.50,445.40 108.11,445.40 109.72,445.40 111.32,445.40 112.93,445.40 114.53,445.40 116.14,445.40 117.75,445.40 119.35,445.40 120.96,445.40 122.56,445.40 124.17,445.40 125.78,445.40 127.38,445.40 128.99,445.40 130.59,445.40 132.20,445.40 133.81,445.40 135.41,445.40 137.02,445.40 138.62,449.70 140.23,449.70 141.84,449.70 143.44,449.70 145.05,449.70 146.65,449.70 148.26,449.70 149.87,449.70 151.47,449.70 153.08,449.70 154.68,449.70 156.29,475.10 157.90,475.10 159.50,475.10 161.11,475.10 162.72,475.10 164.32,475.10 165.93,475.10 167.53,475.10 169.14,475.10 170.75,475.10 172.35,475.10 173.96,475.10 175.56,475.10 177.17,475.10 178.78,475.10 180.38,475.10 181.99,475.10 183.59,475.10 185.20,475.10" fill="none" stroke="#8c8cee" stroke-width="0.75" stroke-dasharray="1.4 0.6" marker-start="url(#m_BCCSA)" marker-mid="url(#m_BCCSA)" marker-end="url(#m_BCCSA)"/>
<polyline points="26.20,434.20 27.81,436.97 29.41,445.15 31.02,447.83 32.62,448.54 34.23,449.24 35.84,449.81 37.44,449.85 39.05,449.90 40.65,449.94 42.26,449.99 43.87,450.03 45.47,450.08 47.08,450.12 48.68,450.16 50.29,450.21 51.90,450.25 53.50,450.30 55.11,450.34 56.72,450.39 58.32,450.43 59.93,450.47 61.53,450.52 63.14,450.56 64.75,450.61 66.35,450.65 67.96,450.70 69.56,450.74 71.17,450.78 72.78,450.83 74.38,450.87 75.99,450.92 77.59,450.96 79.20,451.01 80.81,451.05 82.41,451.09 84.02,451.14 85.62,451.18 87.23,451.23 88.84,451.27 90.44,451.32 92.05,451.36 93.65,451.40 95.26,451.45 96.87,451.49 98.47,466.84 100.08,475.22 101.68,475.27 103.29,475.32 104.90,475.37 106.50,475.42 108.11,475.47 109.72,475.52 111.32,475.57 112.93,475.62 114.53,475.67 116.14,475.73 117.75,475.78 119.35,475.83 120.96,475.88 122.56,475.93 124.17,475.98 125.78,476.03 127.38,476.08 128.99,476.13 130.59,476.18 132.20,476.23 133.81,476.28 135.41,476.33 137.02,476.38 138.62,476.43 140.23,476.49 141.84,476.54 143.44,476.59 145.05,476.64 146.65,476.69 148.26,476.74 149.87,476.79 151.47,489.42 153.08,489.47 154.68,489.52 156.29,489.57 157.90,489.62 159.50,489.67 161.11,489.73 162.72,489.78 164.32,489.83 165.93,489.88 167.53,489.93 169.14,489.98 170.75,490.04 172.35,490.09 173.96,490.14 175.56,490.19 177.17,490.24 178.78,490.29 180.38,490.35 181.99,490.40 183.59,490.45 185.20,490.50" fill="none" stroke="#7878ea" stroke-width="0.60" marker-start="url(#m_BFFAG)" marker-mid="url(#m_BFFAG)" marker-end="url(#m_BFFAG)"/>
<polyline points="26.20,455.70 27.81,462.48 29.41,463.30 31.02,463.30 32.62,463.30 34.23,463.30 35.84,463.30 37.44,463.30 39.05,463.30 40.65,469.60 42.26,469.60 43.87,469.60 45.47,469.60 47.08,487.00 48.68,487.00 50.29,487.00 51.90,487.00 53.50,487.00 55.11,487.00 56.72,487.00 58.32,505.40 59.93,505.40 61.53,505.40 63.14,505.40 64.75,505.40 66.35,505.40 67.96,507.70 69.56,507.70 71.17,507.70 72.78,507.70 74.38,507.70 75.99,507.70 77.59,507.70 79.20,507.70 80.81,507.70 82.41,507.70 84.02,507.70 85.62,507.70 87.23,507.70 88.84,507.70 90.44,507.70 92.05,507.70 93.65,507.70 95.26,507.70 96.87,507.70 98.47,507.70 100.08,507.70 101.68,507.70 103.29,507.70 104.90,507.70 106.50,507.70 108.11,507.70 109.72,507.70 111.32,507.70 112.93,507.70 114.53,507.70 116.14,507.70 117.75,507.70 119.35,507.70 120.96,507.70 122.56,507.70 124.17,507.70 125.78,507.70 127.38,507.70 128.99,507.70 130.59,507.70 132.20,507.70 133.81,507.70 135.41,507.70 137.02,507.70 138.62,507.70 140.23,507.70 141.84,507.70 143.44,507.70 145.05,507.70 146.65,507.70 148.26,507.70 149.87,507.70 151.47,507.70 153.08,507.70 154.68,507.70 156.29,507.70 157.90,507.70 159.50,507.70 161.11,507.70 162.72,507.70 164.32,507.70 165.93,507.70 167.53,507.70 169.14,507.70 170.75,507.70 172.35,507.70 173.96,507.70 175.56,507.70 177.17,507.70 178.78,507.70 180.38,507.70 181.99,507.70 183.59,507.70 185.20,507.70" fill="none" stroke="#6a6ae4" stroke-width="0.60" marker-start="url(#m_BAVOA)" marker-mid="url(#m_BAVOA)" marker-end="url(#m_BAVOA)"/>
<polyline points="26.20,455.00 27.81,457.29 29.41,458.70 31.02,458.70 32.62,458.70 34.23,458.70 35.84,458.70 37.44,458.70 39.05,458.70 40.65,458.70 42.26,458.70 43.87,458.70 45.47,458.70 47.08,458.70 48.68,458.70 50.29,458.70 51.90,458.70 53.50,458.70 55.11,458.70 56.72,458.70 58.32,458.70 59.93,458.70 61.53,458.70 63.14,458.70 64.75,458.70 66.35,467.03 67.96,469.89 69.56,481.90 71.17,481.91 72.78,481.93 74.38,481.94 75.99,481.95 77.59,481.96 79.20,481.97 80.81,481.99 82.41,482.00 84.02,482.01 85.62,482.02 87.23,482.04 88.84,482.05 90.44,482.06 92.05,482.07 93.65,482.08 95.26,482.10 96.87,482.11 98.47,482.12 100.08,482.13 101.68,482.15 103.29,482.16 104.90,482.17 106.50,482.18 108.11,482.20 109.72,491.80 111.32,494.50 112.93,494.50 114.53,494.50 116.14,494.50 117.75,494.50 119.35,494.50 120.96,494.50 122.56,494.50 124.17,494.50 125.78,494.50 127.38,494.50 128.99,494.50 130.59,494.50 132.20,494.50 133.81,494.50 135.41,494.50 137.02,494.50 138.62,494.50 140.23,494.50 141.84,494.50 143.44,494.50 145.05,494.50 146.65,494.50 148.26,494.50 149.87,494.50 151.47,494.50 153.08,494.50 154.68,494.50 156.29,494.50 157.90,494.50 159.50,494.50 161.11,494.50 162.72,494.50 164.32,494.50 165.93,499.32 167.53,507.50 169.14,507.50 170.75,507.50 172.35,507.50 173.96,507.50 175.56,507.50 177.17,521.80 178.78,521.80 180.38,521.80 181.99,521.80 183.59,521.80 185.20,521.80" fill="none" stroke="#555555" stroke-width="0.70"/>
<path d="M26.2,405.1 V530.3 H185.2" fill="none" stroke="#7a7a7a" stroke-width="0.60"/>
<line x1="26.2" y1="530.3" x2="27.6" y2="530.3" stroke="#7a7a7a" stroke-width="0.60"/>
<text x="24.4" y="532.7" font-size="5.30" text-anchor="end" class="t">0.07</text>
<line x1="26.2" y1="517.8" x2="27.6" y2="517.8" stroke="#7a7a7a" stroke-width="0.60"/>
<text x="24.4" y="520.2" font-size="5.30" text-anchor="end" class="t">0.075</text>
<line x1="26.2" y1="505.3" x2="27.6" y2="505.3" stroke="#7a7a7a" stroke-width="0.60"/>
<text x="24.4" y="507.7" font-size="5.30" text-anchor="end" class="t">0.08</text>
<line x1="26.2" y1="492.7" x2="27.6" y2="492.7" stroke="#7a7a7a" stroke-width="0.60"/>
<text x="24.4" y="495.1" font-size="5.30" text-anchor="end" class="t">0.085</text>
<line x1="26.2" y1="480.2" x2="27.6" y2="480.2" stroke="#7a7a7a" stroke-width="0.60"/>
<text x="24.4" y="482.6" font-size="5.30" text-anchor="end" class="t">0.09</text>
<line x1="26.2" y1="467.7" x2="27.6" y2="467.7" stroke="#7a7a7a" stroke-width="0.60"/>
<text x="24.4" y="470.1" font-size="5.30" text-anchor="end" class="t">0.095</text>
<line x1="26.2" y1="455.2" x2="27.6" y2="455.2" stroke="#7a7a7a" stroke-width="0.60"/>
<text x="24.4" y="457.6" font-size="5.30" text-anchor="end" class="t">0.1</text>
<line x1="26.2" y1="442.7" x2="27.6" y2="442.7" stroke="#7a7a7a" stroke-width="0.60"/>
<text x="24.4" y="445.1" font-size="5.30" text-anchor="end" class="t">0.105</text>
<line x1="26.2" y1="430.1" x2="27.6" y2="430.1" stroke="#7a7a7a" stroke-width="0.60"/>
<text x="24.4" y="432.5" font-size="5.30" text-anchor="end" class="t">0.11</text>
<line x1="26.2" y1="417.6" x2="27.6" y2="417.6" stroke="#7a7a7a" stroke-width="0.60"/>
<text x="24.4" y="420.0" font-size="5.30" text-anchor="end" class="t">0.115</text>
<line x1="26.2" y1="405.1" x2="27.6" y2="405.1" stroke="#7a7a7a" stroke-width="0.60"/>
<text x="24.4" y="407.5" font-size="5.30" text-anchor="end" class="t">0.12</text>
<line x1="40.7" y1="530.3" x2="40.7" y2="528.9" stroke="#7a7a7a" stroke-width="0.60"/>
<text x="40.7" y="537.7" font-size="5.30" text-anchor="middle" class="t">10</text>
<line x1="56.7" y1="530.3" x2="56.7" y2="528.9" stroke="#7a7a7a" stroke-width="0.60"/>
<text x="56.7" y="537.7" font-size="5.30" text-anchor="middle" class="t">20</text>
<line x1="72.8" y1="530.3" x2="72.8" y2="528.9" stroke="#7a7a7a" stroke-width="0.60"/>
<text x="72.8" y="537.7" font-size="5.30" text-anchor="middle" class="t">30</text>
<line x1="88.8" y1="530.3" x2="88.8" y2="528.9" stroke="#7a7a7a" stroke-width="0.60"/>
<text x="88.8" y="537.7" font-size="5.30" text-anchor="middle" class="t">40</text>
<line x1="104.9" y1="530.3" x2="104.9" y2="528.9" stroke="#7a7a7a" stroke-width="0.60"/>
<text x="104.9" y="537.7" font-size="5.30" text-anchor="middle" class="t">50</text>
<line x1="121.0" y1="530.3" x2="121.0" y2="528.9" stroke="#7a7a7a" stroke-width="0.60"/>
<text x="121.0" y="537.7" font-size="5.30" text-anchor="middle" class="t">60</text>
<line x1="137.0" y1="530.3" x2="137.0" y2="528.9" stroke="#7a7a7a" stroke-width="0.60"/>
<text x="137.0" y="537.7" font-size="5.30" text-anchor="middle" class="t">70</text>
<line x1="153.1" y1="530.3" x2="153.1" y2="528.9" stroke="#7a7a7a" stroke-width="0.60"/>
<text x="153.1" y="537.7" font-size="5.30" text-anchor="middle" class="t">80</text>
<line x1="169.1" y1="530.3" x2="169.1" y2="528.9" stroke="#7a7a7a" stroke-width="0.60"/>
<text x="169.1" y="537.7" font-size="5.30" text-anchor="middle" class="t">90</text>
<line x1="185.2" y1="530.3" x2="185.2" y2="528.9" stroke="#7a7a7a" stroke-width="0.60"/>
<text x="185.2" y="537.7" font-size="5.30" text-anchor="middle" class="t">100</text>
<text x="105.7" y="544.9" font-size="5.30" text-anchor="middle" class="l">Iteration</text>
<text transform="translate(7.6,467.7) rotate(-90)" x="0" y="1.91" font-size="5.30" text-anchor="middle" class="l">Best Fitness</text>
<text x="105.7" y="403.3" font-size="5.30" font-weight="bold" text-anchor="middle" class="h">ORL</text>
<rect x="140.1" y="408.4" width="41.1" height="49.0" fill="#fff" stroke="#8a8a8a" stroke-width="0.6"/>
<line x1="141.5" y1="412.5" x2="156.0" y2="412.5" stroke="#f4b0b8" stroke-width="0.7" stroke-dasharray="0.6 0.8"/>
<text x="157.7" y="414.0" font-size="4.50" class="g">BBA</text>
<line x1="141.5" y1="418.5" x2="156.0" y2="418.5" stroke="#f49a9a" stroke-width="0.7"/>
<rect x="147.85" y="417.60" width="1.8" height="1.8" fill="#e02020"/>
<text x="157.7" y="420.0" font-size="4.50" class="g">BPSO</text>
<line x1="141.5" y1="424.5" x2="156.0" y2="424.5" stroke="#a0eea0" stroke-width="0.7" stroke-dasharray="1.6 0.9 0.5 0.9"/>
<circle cx="148.75" cy="424.50" r="0.7" fill="#50d050"/>
<text x="157.7" y="426.0" font-size="4.50" class="g">BGWO</text>
<line x1="141.5" y1="430.5" x2="156.0" y2="430.5" stroke="#a0eea0" stroke-width="0.7"/>
<circle cx="148.75" cy="430.50" r="1.25" fill="#78e078"/>
<text x="157.7" y="432.0" font-size="4.50" class="g">BDA</text>
<line x1="141.5" y1="436.5" x2="156.0" y2="436.5" stroke="#acacf2" stroke-width="0.7" stroke-dasharray="1.4 0.6"/>
<circle cx="148.75" cy="436.50" r="0.6" fill="#7070e0"/>
<text x="157.7" y="438.0" font-size="4.50" class="g">BCCSA</text>
<line x1="141.5" y1="442.5" x2="156.0" y2="442.5" stroke="#a4a4f2" stroke-width="0.7"/>
<path d="M148.75,441.10 l1.5,1.4 l-1.5,1.4 l-1.5,-1.4 z" fill="#6060e6"/>
<text x="157.7" y="444.0" font-size="4.50" class="g">BFFAG</text>
<line x1="141.5" y1="448.5" x2="156.0" y2="448.5" stroke="#9c9cf0" stroke-width="0.7"/>
<path d="M147.45,447.15 l2.6,1.35 l-2.6,1.35 z" fill="#4040d8"/>
<text x="157.7" y="450.0" font-size="4.50" class="g">BAVOA-V1</text>
<line x1="141.5" y1="454.5" x2="156.0" y2="454.5" stroke="#8c8c8c" stroke-width="0.7"/>
<text x="157.7" y="456.0" font-size="4.50" class="g">BAVOAH</text>
<polyline points="245.50,430.00 247.14,435.15 248.79,440.30 250.43,444.10 252.07,444.09 253.72,444.08 255.36,444.08 257.00,444.07 258.65,444.06 260.29,444.05 261.93,444.05 263.58,444.04 265.22,444.03 266.86,444.03 268.51,444.02 270.15,444.01 271.79,444.00 273.44,444.00 275.08,443.99 276.73,443.98 278.37,443.97 280.01,443.97 281.66,443.96 283.30,443.95 284.94,443.95 286.59,443.94 288.23,443.93 289.87,443.92 291.52,443.92 293.16,443.91 294.80,443.90 296.45,443.89 298.09,443.89 299.73,443.88 301.38,443.87 303.02,443.87 304.66,443.86 306.31,443.85 307.95,443.84 309.59,443.84 311.24,443.83 312.88,443.82 314.52,443.81 316.17,443.81 317.81,443.80 319.45,443.79 321.10,443.79 322.74,443.78 324.38,443.77 326.03,443.76 327.67,443.76 329.32,443.75 330.96,443.74 332.60,443.73 334.25,443.73 335.89,443.72 337.53,443.71 339.18,443.71 340.82,443.70 342.46,443.69 344.11,443.68 345.75,443.68 347.39,443.67 349.04,443.66 350.68,443.65 352.32,443.65 353.97,443.64 355.61,443.63 357.25,443.63 358.90,443.62 360.54,443.61 362.18,443.60 363.83,443.60 365.47,443.59 367.11,443.58 368.76,443.57 370.40,443.57 372.04,443.56 373.69,443.55 375.33,443.55 376.97,443.54 378.62,443.53 380.26,443.52 381.91,443.52 383.55,443.51 385.19,443.50 386.84,443.49 388.48,443.49 390.12,443.48 391.77,443.47 393.41,443.47 395.05,443.46 396.70,443.45 398.34,443.44 399.98,443.44 401.63,443.43 403.27,443.42 404.91,443.41 406.56,443.41 408.20,443.40" fill="none" stroke="#f08a96" stroke-width="0.60" stroke-dasharray="0.6 0.8"/>
<polyline points="245.50,434.60 247.14,442.49 248.79,449.25 250.43,450.65 252.07,452.29 253.72,458.87 255.36,469.07 257.00,471.32 258.65,473.46 260.29,476.67 261.93,479.87 263.58,481.73 265.22,484.08 266.86,489.12 268.51,496.57 270.15,498.80 271.79,498.80 273.44,498.80 275.08,498.80 276.73,498.80 278.37,498.80 280.01,498.80 281.66,498.80 283.30,498.80 284.94,498.80 286.59,498.80 288.23,502.50 289.87,502.50 291.52,502.50 293.16,502.50 294.80,502.50 296.45,502.50 298.09,502.50 299.73,502.50 301.38,502.50 303.02,502.50 304.66,502.50 306.31,502.50 307.95,506.20 309.59,506.20 311.24,506.20 312.88,506.20 314.52,511.20 316.17,511.20 317.81,511.20 319.45,511.20 321.10,511.20 322.74,511.20 324.38,511.20 326.03,511.20 327.67,511.20 329.32,511.20 330.96,511.20 332.60,511.20 334.25,511.20 335.89,511.20 337.53,511.20 339.18,511.20 340.82,511.20 342.46,511.20 344.11,511.20 345.75,511.20 347.39,511.20 349.04,511.20 350.68,511.20 352.32,511.20 353.97,511.20 355.61,511.20 357.25,511.20 358.90,511.20 360.54,511.20 362.18,515.10 363.83,515.10 365.47,515.10 367.11,515.10 368.76,515.10 370.40,515.10 372.04,515.10 373.69,515.10 375.33,515.10 376.97,515.10 378.62,515.10 380.26,515.10 381.91,515.10 383.55,515.10 385.19,515.10 386.84,515.10 388.48,515.10 390.12,515.10 391.77,515.10 393.41,515.10 395.05,523.70 396.70,523.70 398.34,523.70 399.98,523.70 401.63,523.70 403.27,523.70 404.91,523.70 406.56,523.70 408.20,523.70" fill="none" stroke="#f06060" stroke-width="0.60" marker-start="url(#m_BPSO)" marker-mid="url(#m_BPSO)" marker-end="url(#m_BPSO)"/>
<polyline points="245.50,417.00 247.14,427.34 248.79,442.29 250.43,454.80 252.07,465.27 253.72,471.18 255.36,472.20 257.00,472.20 258.65,472.86 260.29,474.52 261.93,476.19 263.58,477.85 265.22,479.51 266.86,482.17 268.51,485.22 270.15,488.25 271.79,490.94 273.44,493.66 275.08,496.72 276.73,497.50 278.37,497.50 280.01,497.50 281.66,497.50 283.30,497.50 284.94,497.50 286.59,497.50 288.23,497.50 289.87,497.50 291.52,497.50 293.16,497.50 294.80,497.50 296.45,497.50 298.09,497.50 299.73,497.50 301.38,497.50 303.02,497.50 304.66,497.50 306.31,497.50 307.95,497.50 309.59,497.50 311.24,497.50 312.88,497.50 314.52,497.50 316.17,497.50 317.81,497.50 319.45,497.50 321.10,497.50 322.74,497.50 324.38,497.50 326.03,497.50 327.67,497.50 329.32,497.50 330.96,497.50 332.60,497.50 334.25,497.50 335.89,497.50 337.53,497.50 339.18,497.50 340.82,497.50 342.46,497.50 344.11,497.50 345.75,497.50 347.39,497.50 349.04,497.50 350.68,497.50 352.32,497.50 353.97,497.50 355.61,497.50 357.25,497.50 358.90,497.50 360.54,497.50 362.18,497.50 363.83,497.50 365.47,497.50 367.11,497.50 368.76,497.50 370.40,497.50 372.04,497.50 373.69,497.50 375.33,497.50 376.97,497.50 378.62,497.50 380.26,497.50 381.91,497.50 383.55,497.50 385.19,497.50 386.84,497.50 388.48,497.50 390.12,497.50 391.77,497.50 393.41,497.50 395.05,497.50 396.70,497.50 398.34,497.50 399.98,497.50 401.63,497.50 403.27,497.50 404.91,497.50 406.56,497.50 408.20,497.50" fill="none" stroke="#70e470" stroke-width="0.80" marker-start="url(#m_BGWO)" marker-mid="url(#m_BGWO)" marker-end="url(#m_BGWO)"/>
<polyline points="245.50,417.00 247.14,426.91 248.79,437.32 250.43,446.99 252.07,454.59 253.72,462.19 255.36,463.50 257.00,463.50 258.65,463.50 260.29,463.50 261.93,463.50 263.58,463.50 265.22,480.90 266.86,480.90 268.51,480.90 270.15,480.90 271.79,480.90 273.44,480.90 275.08,480.90 276.73,480.90 278.37,480.90 280.01,480.90 281.66,484.80 283.30,484.80 284.94,484.80 286.59,484.80 288.23,484.80 289.87,484.80 291.52,488.40 293.16,488.40 294.80,488.40 296.45,488.40 298.09,488.40 299.73,488.40 301.38,488.40 303.02,488.40 304.66,488.40 306.31,488.40 307.95,488.40 309.59,488.40 311.24,488.40 312.88,488.40 314.52,488.40 316.17,488.40 317.81,488.40 319.45,488.40 321.10,488.40 322.74,488.40 324.38,488.40 326.03,488.40 327.67,488.40 329.32,488.40 330.96,488.40 332.60,488.40 334.25,488.40 335.89,488.40 337.53,488.40 339.18,488.40 340.82,488.40 342.46,488.40 344.11,493.20 345.75,493.20 347.39,493.20 349.04,493.20 350.68,493.20 352.32,497.50 353.97,497.50 355.61,497.50 357.25,497.50 358.90,501.40 360.54,501.40 362.18,501.40 363.83,501.40 365.47,501.40 367.11,501.40 368.76,501.40 370.40,501.40 372.04,501.40 373.69,501.40 375.33,501.40 376.97,501.40 378.62,501.40 380.26,501.40 381.91,501.40 383.55,501.40 385.19,501.40 386.84,501.40 388.48,501.40 390.12,501.40 391.77,501.40 393.41,501.40 395.05,501.40 396.70,501.40 398.34,501.40 399.98,501.40 401.63,501.40 403.27,501.40 404.91,501.40 406.56,501.40 408.20,501.40" fill="none" stroke="#80ea80" stroke-width="0.60" marker-start="url(#m_BDA)" marker-mid="url(#m_BDA)" marker-end="url(#m_BDA)"/>
<polyline points="245.50,438.20 247.14,438.20 248.79,438.20 250.43,438.20 252.07,438.20 253.72,438.20 255.36,438.20 257.00,438.20 258.65,438.20 260.29,438.20 261.93,438.20 263.58,438.20 265.22,438.20 266.86,438.20 268.51,438.20 270.15,438.20 271.79,438.20 273.44,438.20 275.08,438.20 276.73,438.20 278.37,438.20 280.01,438.20 281.66,438.20 283.30,438.20 284.94,438.20 286.59,438.20 288.23,438.20 289.87,438.20 291.52,438.20 293.16,441.30 294.80,441.30 296.45,441.30 298.09,441.30 299.73,441.30 301.38,441.30 303.02,441.30 304.66,441.30 306.31,441.30 307.95,441.30 309.59,441.30 311.24,441.30 312.88,441.30 314.52,441.30 316.17,441.30 317.81,441.30 319.45,441.30 321.10,441.30 322.74,441.30 324.38,441.30 326.03,441.30 327.67,441.30 329.32,441.30 330.96,441.30 332.60,441.30 334.25,441.30 335.89,441.30 337.53,441.30 339.18,441.30 340.82,441.30 342.46,441.30 344.11,441.30 345.75,441.30 347.39,441.30 349.04,441.30 350.68,441.30 352.32,441.30 353.97,441.30 355.61,441.30 357.25,441.30 358.90,441.30 360.54,441.30 362.18,441.30 363.83,441.30 365.47,441.30 367.11,441.30 368.76,441.30 370.40,441.30 372.04,441.30 373.69,441.30 375.33,441.30 376.97,441.30 378.62,441.30 380.26,441.30 381.91,441.30 383.55,441.30 385.19,441.30 386.84,441.30 388.48,441.30 390.12,441.30 391.77,441.30 393.41,441.30 395.05,441.30 396.70,441.30 398.34,441.30 399.98,441.30 401.63,441.30 403.27,441.30 404.91,441.30 406.56,441.30 408.20,441.30" fill="none" stroke="#8c8cee" stroke-width="0.75" stroke-dasharray="1.4 0.6" marker-start="url(#m_BCCSA)" marker-mid="url(#m_BCCSA)" marker-end="url(#m_BCCSA)"/>
<polyline points="245.50,445.20 247.14,445.20 248.79,445.20 250.43,447.03 252.07,454.04 253.72,461.05 255.36,461.40 257.00,461.40 258.65,461.40 260.29,461.40 261.93,461.40 263.58,461.40 265.22,461.40 266.86,461.40 268.51,461.40 270.15,461.40 271.79,461.40 273.44,461.40 275.08,461.40 276.73,461.40 278.37,461.40 280.01,461.40 281.66,461.40 283.30,461.40 284.94,461.40 286.59,461.40 288.23,461.40 289.87,461.40 291.52,461.40 293.16,461.40 294.80,461.40 296.45,461.40 298.09,461.40 299.73,461.40 301.38,461.40 303.02,461.40 304.66,461.40 306.31,468.50 307.95,468.50 309.59,468.50 311.24,468.50 312.88,468.50 314.52,468.50 316.17,468.50 317.81,468.50 319.45,468.50 321.10,468.50 322.74,468.50 324.38,468.50 326.03,468.50 327.67,468.50 329.32,468.50 330.96,468.50 332.60,468.50 334.25,468.50 335.89,468.50 337.53,468.50 339.18,468.50 340.82,468.50 342.46,475.50 344.11,475.50 345.75,475.50 347.39,475.50 349.04,475.50 350.68,475.50 352.32,475.50 353.97,475.50 355.61,475.50 357.25,475.50 358.90,475.50 360.54,475.50 362.18,475.50 363.83,475.50 365.47,475.50 367.11,475.50 368.76,475.50 370.40,475.50 372.04,475.50 373.69,475.50 375.33,475.50 376.97,475.50 378.62,475.50 380.26,475.50 381.91,475.50 383.55,475.50 385.19,475.50 386.84,475.50 388.48,475.50 390.12,475.50 391.77,475.50 393.41,475.50 395.05,475.50 396.70,475.50 398.34,475.50 399.98,475.50 401.63,475.50 403.27,475.50 404.91,475.50 406.56,475.50 408.20,475.50" fill="none" stroke="#7878ea" stroke-width="0.60" marker-start="url(#m_BFFAG)" marker-mid="url(#m_BFFAG)" marker-end="url(#m_BFFAG)"/>
<polyline points="245.50,446.00 247.14,446.37 248.79,446.73 250.43,448.45 252.07,454.00 253.72,459.56 255.36,462.20 257.00,462.20 258.65,462.20 260.29,462.20 261.93,462.20 263.58,462.20 265.22,462.20 266.86,462.20 268.51,462.20 270.15,462.20 271.79,462.20 273.44,462.20 275.08,462.20 276.73,462.20 278.37,462.20 280.01,462.20 281.66,462.20 283.30,462.20 284.94,462.20 286.59,462.20 288.23,462.20 289.87,462.20 291.52,462.20 293.16,462.20 294.80,462.20 296.45,462.20 298.09,462.20 299.73,462.20 301.38,462.20 303.02,462.20 304.66,462.20 306.31,462.20 307.95,462.20 309.59,462.20 311.24,462.20 312.88,462.20 314.52,462.20 316.17,462.20 317.81,462.20 319.45,462.20 321.10,462.20 322.74,462.96 324.38,464.65 326.03,465.87 327.67,466.33 329.32,466.78 330.96,467.24 332.60,467.90 334.25,468.70 335.89,468.70 337.53,468.70 339.18,468.70 340.82,468.70 342.46,468.70 344.11,468.70 345.75,468.70 347.39,468.70 349.04,468.70 350.68,468.70 352.32,468.70 353.97,468.70 355.61,468.70 357.25,468.70 358.90,468.70 360.54,468.70 362.18,468.70 363.83,468.70 365.47,468.70 367.11,468.70 368.76,468.70 370.40,468.70 372.04,468.70 373.69,468.70 375.33,468.70 376.97,468.70 378.62,468.70 380.26,468.70 381.91,468.70 383.55,468.70 385.19,468.70 386.84,468.70 388.48,468.70 390.12,468.70 391.77,468.70 393.41,468.70 395.05,468.70 396.70,468.70 398.34,468.70 399.98,468.70 401.63,468.70 403.27,468.70 404.91,468.70 406.56,468.70 408.20,468.70" fill="none" stroke="#6a6ae4" stroke-width="0.60" marker-start="url(#m_BAVOA)" marker-mid="url(#m_BAVOA)" marker-end="url(#m_BAVOA)"/>
<polyline points="245.50,438.20 247.14,438.20 248.79,438.20 250.43,438.20 252.07,438.20 253.72,438.20 255.36,438.20 257.00,438.20 258.65,438.20 260.29,438.20 261.93,438.20 263.58,438.20 265.22,438.20 266.86,438.20 268.51,438.20 270.15,438.20 271.79,445.20 273.44,445.20 275.08,445.20 276.73,445.20 278.37,445.20 280.01,445.20 281.66,445.20 283.30,447.70 284.94,447.70 286.59,447.70 288.23,447.70 289.87,447.70 291.52,447.70 293.16,447.70 294.80,447.70 296.45,447.70 298.09,447.70 299.73,447.70 301.38,447.70 303.02,447.70 304.66,447.70 306.31,447.70 307.95,447.70 309.59,450.16 311.24,456.00 312.88,456.00 314.52,456.00 316.17,456.00 317.81,456.00 319.45,456.00 321.10,456.00 322.74,456.00 324.38,456.00 326.03,456.00 327.67,456.00 329.32,456.00 330.96,456.00 332.60,456.00 334.25,456.00 335.89,456.00 337.53,456.00 339.18,456.00 340.82,456.00 342.46,456.00 344.11,456.00 345.75,456.00 347.39,476.50 349.04,476.50 350.68,476.50 352.32,476.50 353.97,476.50 355.61,476.50 357.25,476.50 358.90,476.50 360.54,476.50 362.18,476.50 363.83,476.50 365.47,476.50 367.11,476.50 368.76,478.91 370.40,481.50 372.04,481.50 373.69,481.50 375.33,481.50 376.97,481.50 378.62,482.59 380.26,489.50 381.91,489.50 383.55,489.50 385.19,489.50 386.84,489.50 388.48,489.50 390.12,489.50 391.77,489.50 393.41,489.50 395.05,495.41 396.70,498.00 398.34,498.00 399.98,498.00 401.63,510.50 403.27,510.50 404.91,510.50 406.56,510.50 408.20,510.50" fill="none" stroke="#555555" stroke-width="0.70"/>
<path d="M245.5,403.3 V532.0 H408.2" fill="none" stroke="#7a7a7a" stroke-width="0.60"/>
<line x1="245.5" y1="532.0" x2="246.9" y2="532.0" stroke="#7a7a7a" stroke-width="0.60"/>
<text x="243.7" y="534.4" font-size="5.30" text-anchor="end" class="t">0.07</text>
<line x1="245.5" y1="515.9" x2="246.9" y2="515.9" stroke="#7a7a7a" stroke-width="0.60"/>
<text x="243.7" y="518.3" font-size="5.30" text-anchor="end" class="t">0.08</text>
<line x1="245.5" y1="499.8" x2="246.9" y2="499.8" stroke="#7a7a7a" stroke-width="0.60"/>
<text x="243.7" y="502.2" font-size="5.30" text-anchor="end" class="t">0.09</text>
<line x1="245.5" y1="483.7" x2="246.9" y2="483.7" stroke="#7a7a7a" stroke-width="0.60"/>
<text x="243.7" y="486.1" font-size="5.30" text-anchor="end" class="t">0.1</text>
<line x1="245.5" y1="467.6" x2="246.9" y2="467.6" stroke="#7a7a7a" stroke-width="0.60"/>
<text x="243.7" y="470.1" font-size="5.30" text-anchor="end" class="t">0.11</text>
<line x1="245.5" y1="451.6" x2="246.9" y2="451.6" stroke="#7a7a7a" stroke-width="0.60"/>
<text x="243.7" y="454.0" font-size="5.30" text-anchor="end" class="t">0.12</text>
<line x1="245.5" y1="435.5" x2="246.9" y2="435.5" stroke="#7a7a7a" stroke-width="0.60"/>
<text x="243.7" y="437.9" font-size="5.30" text-anchor="end" class="t">0.13</text>
<line x1="245.5" y1="419.4" x2="246.9" y2="419.4" stroke="#7a7a7a" stroke-width="0.60"/>
<text x="243.7" y="421.8" font-size="5.30" text-anchor="end" class="t">0.14</text>
<line x1="245.5" y1="403.3" x2="246.9" y2="403.3" stroke="#7a7a7a" stroke-width="0.60"/>
<text x="243.7" y="405.7" font-size="5.30" text-anchor="end" class="t">0.15</text>
<line x1="260.3" y1="532.0" x2="260.3" y2="530.6" stroke="#7a7a7a" stroke-width="0.60"/>
<text x="260.3" y="539.6" font-size="5.30" text-anchor="middle" class="t">10</text>
<line x1="276.7" y1="532.0" x2="276.7" y2="530.6" stroke="#7a7a7a" stroke-width="0.60"/>
<text x="276.7" y="539.6" font-size="5.30" text-anchor="middle" class="t">20</text>
<line x1="293.2" y1="532.0" x2="293.2" y2="530.6" stroke="#7a7a7a" stroke-width="0.60"/>
<text x="293.2" y="539.6" font-size="5.30" text-anchor="middle" class="t">30</text>
<line x1="309.6" y1="532.0" x2="309.6" y2="530.6" stroke="#7a7a7a" stroke-width="0.60"/>
<text x="309.6" y="539.6" font-size="5.30" text-anchor="middle" class="t">40</text>
<line x1="326.0" y1="532.0" x2="326.0" y2="530.6" stroke="#7a7a7a" stroke-width="0.60"/>
<text x="326.0" y="539.6" font-size="5.30" text-anchor="middle" class="t">50</text>
<line x1="342.5" y1="532.0" x2="342.5" y2="530.6" stroke="#7a7a7a" stroke-width="0.60"/>
<text x="342.5" y="539.6" font-size="5.30" text-anchor="middle" class="t">60</text>
<line x1="358.9" y1="532.0" x2="358.9" y2="530.6" stroke="#7a7a7a" stroke-width="0.60"/>
<text x="358.9" y="539.6" font-size="5.30" text-anchor="middle" class="t">70</text>
<line x1="375.3" y1="532.0" x2="375.3" y2="530.6" stroke="#7a7a7a" stroke-width="0.60"/>
<text x="375.3" y="539.6" font-size="5.30" text-anchor="middle" class="t">80</text>
<line x1="391.8" y1="532.0" x2="391.8" y2="530.6" stroke="#7a7a7a" stroke-width="0.60"/>
<text x="391.8" y="539.6" font-size="5.30" text-anchor="middle" class="t">90</text>
<line x1="408.2" y1="532.0" x2="408.2" y2="530.6" stroke="#7a7a7a" stroke-width="0.60"/>
<text x="408.2" y="539.6" font-size="5.30" text-anchor="middle" class="t">100</text>
<text x="326.9" y="546.7" font-size="5.30" text-anchor="middle" class="l">Iteration</text>
<text transform="translate(229.2,467.6) rotate(-90)" x="0" y="1.91" font-size="5.30" text-anchor="middle" class="l">Best Fitness</text>
<text y="399.4" font-size="5.45" font-weight="bold" class="h"><tspan x="314.6">pd</tspan><tspan font-size="4" dy="1.3">s</tspan><tspan dy="-1.3">peech</tspan></text>
<rect x="362.4" y="407.1" width="42.4" height="50.8" fill="#fff" stroke="#8a8a8a" stroke-width="0.6"/>
<line x1="364.0" y1="411.5" x2="378.3" y2="411.5" stroke="#f4b0b8" stroke-width="0.7" stroke-dasharray="0.6 0.8"/>
<text x="380.2" y="413.0" font-size="4.50" class="g">BBA</text>
<line x1="364.0" y1="417.5" x2="378.3" y2="417.5" stroke="#f49a9a" stroke-width="0.7"/>
<rect x="370.25" y="416.60" width="1.8" height="1.8" fill="#e02020"/>
<text x="380.2" y="419.0" font-size="4.50" class="g">BPSO</text>
<line x1="364.0" y1="423.5" x2="378.3" y2="423.5" stroke="#a0eea0" stroke-width="0.7" stroke-dasharray="1.6 0.9 0.5 0.9"/>
<circle cx="371.15" cy="423.50" r="0.7" fill="#50d050"/>
<text x="380.2" y="425.0" font-size="4.50" class="g">BGWO</text>
<line x1="364.0" y1="429.5" x2="378.3" y2="429.5" stroke="#a0eea0" stroke-width="0.7"/>
<circle cx="371.15" cy="429.50" r="1.25" fill="#78e078"/>
<text x="380.2" y="431.0" font-size="4.50" class="g">BDA</text>
<line x1="364.0" y1="435.5" x2="378.3" y2="435.5" stroke="#acacf2" stroke-width="0.7" stroke-dasharray="1.4 0.6"/>
<circle cx="371.15" cy="435.50" r="0.6" fill="#7070e0"/>
<text x="380.2" y="437.0" font-size="4.50" class="g">BCCSA</text>
<line x1="364.0" y1="442.5" x2="378.3" y2="442.5" stroke="#a4a4f2" stroke-width="0.7"/>
<path d="M371.15,441.10 l1.5,1.4 l-1.5,1.4 l-1.5,-1.4 z" fill="#6060e6"/>
<text x="380.2" y="444.0" font-size="4.50" class="g">BFFAG</text>
<line x1="364.0" y1="448.5" x2="378.3" y2="448.5" stroke="#9c9cf0" stroke-width="0.7"/>
<path d="M369.85,447.15 l2.6,1.35 l-2.6,1.35 z" fill="#4040d8"/>
<text x="380.2" y="450.0" font-size="4.50" class="g">BAVOA-V1</text>
<line x1="364.0" y1="454.5" x2="378.3" y2="454.5" stroke="#8c8c8c" stroke-width="0.7"/>
<text x="380.2" y="456.0" font-size="4.50" class="g">BAVOAH</text>
</g>
</svg>
</body></html>
